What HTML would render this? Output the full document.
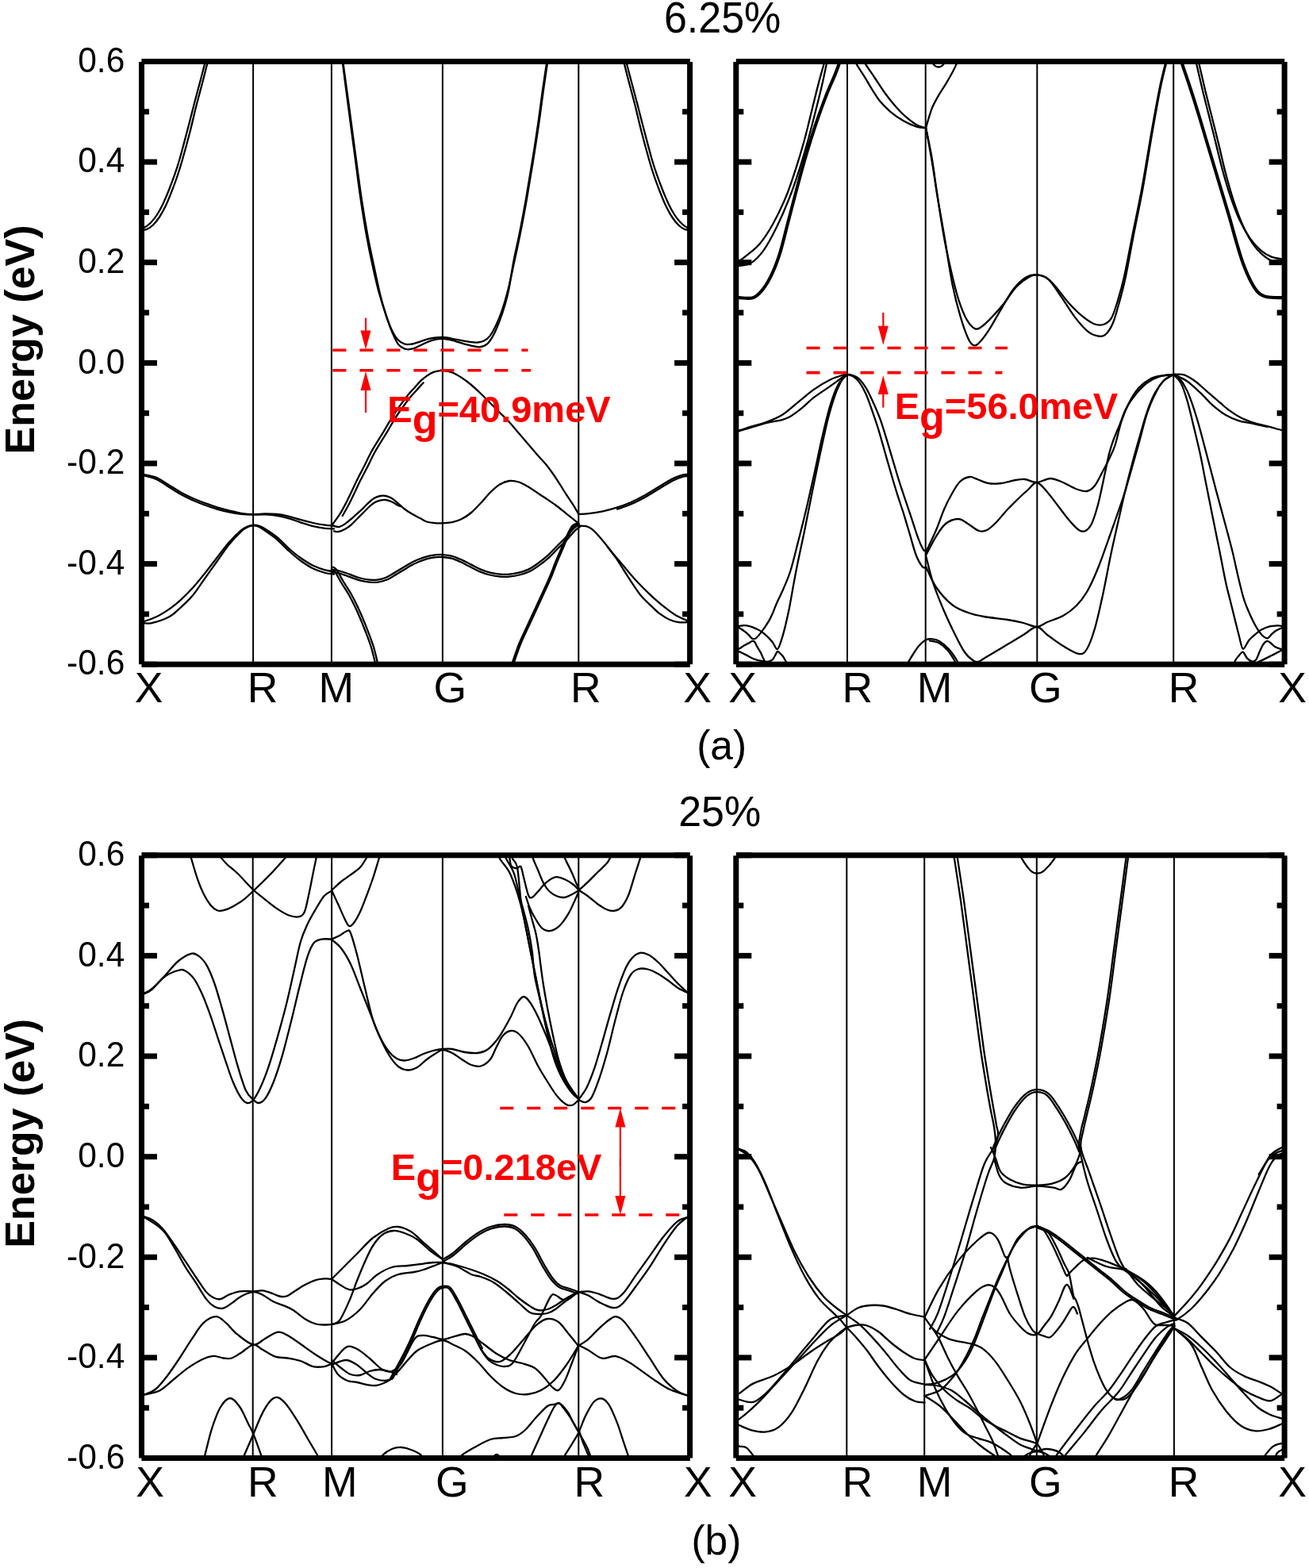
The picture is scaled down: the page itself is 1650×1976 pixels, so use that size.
<!DOCTYPE html><html><head><meta charset="utf-8"><title>Band structures</title><style>html,body{margin:0;padding:0;background:#fff;}svg{display:block;}.t{font-family:"Liberation Sans",Arial,sans-serif;fill:#000;}</style></head><body>
<svg width="1650" height="1976" viewBox="0 0 1650 1976">
<rect width="1650" height="1976" fill="#fff"/>
<clipPath id="cTL"><rect x="178.5" y="77.5" width="691.1" height="759.7"/></clipPath>
<g clip-path="url(#cTL)" fill="none" stroke="#000" stroke-width="2.3" stroke-linejoin="round" stroke-linecap="round">
<line x1="319.1" y1="77.5" x2="319.1" y2="837.2" stroke-width="2"/>
<line x1="417.9" y1="77.5" x2="417.9" y2="837.2" stroke-width="2"/>
<line x1="557.9" y1="77.5" x2="557.9" y2="837.2" stroke-width="2"/>
<line x1="729.3" y1="77.5" x2="729.3" y2="837.2" stroke-width="2"/>
<path d="M176.0,288.2 C177.1,287.9 180.2,287.8 182.5,286.5 C184.8,285.2 187.6,283.1 190.1,280.5 C192.6,277.9 195.2,274.9 197.7,271.0 C200.2,267.1 202.8,262.4 205.3,257.2 C207.8,251.9 210.4,245.8 212.9,239.5 C215.4,233.2 218.2,225.8 220.5,219.2 C222.8,212.6 224.0,209.0 226.6,200.0 C229.2,191.0 232.9,176.7 236.0,165.0 C239.1,153.3 242.2,140.8 245.0,130.0 C247.8,119.2 250.6,109.2 253.0,100.0 C255.4,90.8 258.4,79.2 259.5,75.0"/>
<path d="M176.0,289.8 C177.4,289.7 181.7,290.2 184.5,289.2 C187.3,288.1 190.2,286.1 193.0,283.5 C195.8,280.9 198.3,277.6 201.0,273.5 C203.7,269.4 206.4,264.4 209.0,259.0 C211.6,253.6 214.0,247.4 216.5,241.0 C219.0,234.6 221.8,227.2 224.0,220.5 C226.2,213.8 227.4,210.1 230.0,201.0 C232.6,191.9 236.5,177.7 239.5,166.0 C242.5,154.3 245.2,141.8 248.0,131.0 C250.8,120.2 253.6,110.3 256.0,101.0 C258.4,91.7 261.4,79.3 262.5,75.0"/>
<path d="M788.6,75.0 C789.7,79.2 792.7,90.8 795.1,100.0 C797.5,109.2 800.3,119.2 803.1,130.0 C805.9,140.8 809.0,153.3 812.1,165.0 C815.2,176.7 818.9,191.0 821.5,200.0 C824.1,209.0 825.3,212.6 827.6,219.2 C829.9,225.8 832.7,233.2 835.2,239.5 C837.7,245.8 840.3,251.9 842.8,257.2 C845.3,262.4 847.9,267.1 850.4,271.0 C852.9,274.9 855.5,277.9 858.0,280.5 C860.5,283.1 863.2,285.2 865.6,286.5 C867.9,287.8 871.0,287.9 872.1,288.2"/>
<path d="M785.6,75.0 C786.7,79.3 789.7,91.7 792.1,101.0 C794.5,110.3 797.3,120.2 800.1,131.0 C802.8,141.8 805.6,154.3 808.6,166.0 C811.6,177.7 815.5,191.9 818.1,201.0 C820.7,210.1 821.8,213.8 824.1,220.5 C826.3,227.2 829.1,234.6 831.6,241.0 C834.1,247.4 836.5,253.6 839.1,259.0 C841.7,264.4 844.4,269.4 847.1,273.5 C849.8,277.6 852.3,280.9 855.1,283.5 C857.8,286.1 860.8,288.1 863.6,289.2 C866.4,290.2 870.7,289.7 872.1,289.8"/>
<path d="M176.0,598.0 C177.0,598.0 178.2,597.5 181.8,598.2 C185.4,598.9 192.5,599.8 197.7,602.0 C202.9,604.2 207.8,608.2 212.9,611.3 C218.0,614.4 222.9,617.6 228.0,620.4 C233.1,623.2 238.1,625.7 243.2,628.0 C248.2,630.3 253.2,632.1 258.3,634.0 C263.4,635.9 268.4,637.8 273.5,639.3 C278.6,640.8 283.6,642.0 288.6,643.3 C293.7,644.5 298.8,646.0 303.8,646.8 C308.9,647.6 313.8,648.1 318.9,648.2 C323.9,648.3 329.1,647.4 334.1,647.4 C339.2,647.4 344.1,647.4 349.2,648.0 C354.2,648.6 359.3,649.6 364.4,650.8 C369.4,652.0 374.4,653.8 379.5,655.2 C384.6,656.6 389.6,657.9 394.7,659.0 C399.8,660.1 405.4,661.0 409.8,661.6 C414.2,662.2 419.1,662.4 421.0,662.6"/>
<path d="M176.0,598.8 C177.0,598.9 178.2,598.5 181.8,599.4 C185.4,600.3 192.5,601.9 197.7,604.3 C202.9,606.7 207.8,610.7 212.9,613.8 C218.0,616.9 222.9,620.2 228.0,623.0 C233.1,625.8 238.1,628.2 243.2,630.5 C248.2,632.8 253.2,634.6 258.3,636.5 C263.4,638.4 268.4,640.1 273.5,641.6 C278.6,643.1 283.6,644.3 288.6,645.3 C293.7,646.3 298.8,647.2 303.8,647.8 C308.9,648.3 313.8,648.5 318.9,648.6 C323.9,648.7 329.1,648.2 334.1,648.4 C339.2,648.6 344.1,649.0 349.2,649.8 C354.2,650.6 359.3,651.8 364.4,653.3 C369.4,654.8 374.4,657.0 379.5,658.6 C384.6,660.2 389.6,662.0 394.7,663.2 C399.8,664.4 405.4,665.3 409.8,665.8 C414.2,666.3 419.1,666.3 421.0,666.4"/>
<path d="M176.0,783.0 C177.0,783.0 178.2,784.0 181.8,783.0 C185.4,782.0 192.5,779.5 197.7,777.0 C202.9,774.5 207.8,771.4 212.9,767.9 C218.0,764.4 222.9,760.3 228.0,755.8 C233.1,751.2 238.1,746.2 243.2,740.6 C248.2,735.0 253.2,728.7 258.3,722.4 C263.4,716.1 268.4,709.2 273.5,702.7 C278.6,696.2 283.6,689.2 288.6,683.5 C293.7,677.8 299.9,671.8 303.8,668.5 C307.7,665.2 309.5,664.6 312.0,663.5 C314.5,662.4 316.6,662.0 318.9,661.8 C321.2,661.6 323.5,661.7 326.0,662.5 C328.5,663.3 330.2,664.0 334.1,666.4 C338.0,668.8 344.1,672.8 349.2,677.0 C354.2,681.2 359.3,687.1 364.4,691.5 C369.4,695.9 374.4,700.0 379.5,703.5 C384.6,707.0 389.6,710.3 394.7,712.8 C399.8,715.3 405.4,717.1 409.8,718.3 C414.2,719.5 419.1,719.9 421.0,720.2"/>
<path d="M176.0,784.5 C178.4,784.6 184.0,786.5 190.2,785.3 C196.3,784.1 206.6,780.8 212.9,777.5 C219.2,774.2 222.9,769.9 228.0,765.3 C233.1,760.7 238.1,756.1 243.2,750.0 C248.2,743.9 253.2,735.9 258.3,728.8 C263.4,721.7 268.4,714.6 273.5,707.5 C278.6,700.4 283.6,692.6 288.6,686.3 C293.7,680.0 299.9,673.5 303.8,669.8 C307.7,666.1 309.5,665.5 312.0,664.3 C314.5,663.0 316.6,662.4 318.9,662.3 C321.2,662.2 323.5,662.7 326.0,663.8 C328.5,664.9 330.2,666.1 334.1,668.8 C338.0,671.5 344.1,675.5 349.2,679.8 C354.2,684.1 359.3,690.0 364.4,694.5 C369.4,699.0 374.4,703.3 379.5,707.0 C384.6,710.7 389.6,714.0 394.7,716.5 C399.8,719.0 405.4,720.8 409.8,722.0 C414.2,723.2 419.1,723.2 421.0,723.5"/>
<path d="M431.7,75.0 C431.8,76.0 430.9,71.2 432.1,80.8 C433.3,90.4 436.4,114.4 438.8,132.7 C441.2,151.0 443.9,171.2 446.5,190.4 C449.1,209.6 451.6,230.5 454.2,248.1 C456.8,265.7 459.3,281.8 461.9,296.2 C464.5,310.6 467.0,322.8 469.6,334.6 C472.2,346.5 474.7,357.7 477.3,367.3 C479.9,376.9 482.4,384.6 485.0,392.3 C487.6,400.0 490.1,407.7 492.7,413.5 C495.3,419.3 497.5,423.6 500.4,426.9 C503.3,430.2 506.8,432.4 510.0,433.5 C513.2,434.6 516.4,434.0 519.6,433.5 C522.8,433.0 525.7,431.7 529.2,430.6 C532.7,429.5 536.0,427.8 540.8,426.9 C545.6,426.0 552.3,424.8 558.1,425.0 C563.9,425.2 570.0,427.0 575.4,427.9 C580.8,428.8 586.3,430.0 590.8,430.6 C595.3,431.2 599.1,431.7 602.3,431.5 C605.5,431.3 607.4,431.0 610.0,429.6 C612.6,428.2 615.1,426.4 617.7,423.1 C620.3,419.8 622.8,415.1 625.4,409.6 C628.0,404.2 630.5,398.1 633.1,390.4 C635.7,382.7 638.2,373.8 640.8,363.5 C643.4,353.2 645.9,340.7 648.5,328.8 C651.1,316.9 653.7,305.1 656.2,292.3 C658.8,279.5 661.2,266.3 663.8,251.9 C666.3,237.5 668.9,221.8 671.5,205.8 C674.1,189.8 677.0,171.2 679.2,155.8 C681.5,140.4 683.2,126.0 685.0,113.5 C686.8,101.0 688.9,87.2 689.8,80.8 C690.7,74.4 690.4,76.0 690.5,75.0"/>
<path d="M432.3,75.0 C432.4,76.0 431.4,71.2 432.7,80.8 C433.9,90.4 437.3,114.4 439.8,132.7 C442.3,151.0 444.9,171.2 447.5,190.4 C450.1,209.6 452.8,230.5 455.4,248.1 C458.0,265.7 460.7,281.8 463.3,296.2 C465.9,310.6 468.6,322.1 471.2,334.6 C473.8,347.1 476.6,360.6 479.2,371.2 C481.8,381.8 484.3,390.1 486.9,398.1 C489.5,406.1 492.0,413.2 494.6,419.2 C497.2,425.2 499.4,430.7 502.3,434.2 C505.2,437.7 508.7,439.2 511.9,440.0 C515.1,440.8 518.0,440.2 521.5,439.2 C525.0,438.1 529.2,435.4 533.1,433.7 C537.0,432.0 540.4,429.9 544.6,428.8 C548.8,427.7 553.3,426.7 558.1,426.9 C562.9,427.1 568.4,428.6 573.5,429.8 C578.6,431.1 583.7,433.1 588.8,434.4 C593.9,435.6 600.0,437.4 604.2,437.3 C608.4,437.2 610.9,436.1 613.8,433.7 C616.7,431.3 618.9,427.8 621.5,423.1 C624.1,418.5 626.6,412.5 629.2,405.8 C631.8,399.1 634.9,389.7 636.9,382.7 C638.9,375.7 639.7,373.0 641.5,364.0 C643.3,355.0 645.2,340.8 647.5,328.8 C649.8,316.9 652.7,305.1 655.2,292.3 C657.8,279.5 660.2,266.3 662.8,251.9 C665.3,237.5 667.9,221.8 670.5,205.8 C673.1,189.8 676.0,171.2 678.2,155.8 C680.5,140.4 682.2,126.0 684.0,113.5 C685.8,101.0 687.9,87.2 688.8,80.8 C689.7,74.4 689.4,76.0 689.5,75.0"/>
<path d="M418.0,663.0 C418.2,662.6 417.8,663.0 419.5,660.5 C421.2,658.0 425.5,652.4 428.2,648.2 C430.9,644.0 433.1,639.7 435.5,635.1 C437.9,630.5 440.3,625.5 442.7,620.5 C445.1,615.5 447.2,610.7 450.0,605.0 C452.8,599.3 456.8,592.1 459.7,586.3 C462.6,580.5 465.0,575.2 467.6,570.3 C470.2,565.4 472.9,561.2 475.5,556.9 C478.1,552.6 480.7,548.6 483.3,544.3 C485.9,540.0 488.6,535.2 491.2,530.9 C493.8,526.6 496.5,522.2 499.1,518.3 C501.7,514.4 504.4,510.9 507.0,507.3 C509.6,503.8 512.3,500.1 514.9,497.0 C517.5,493.9 520.1,491.3 522.7,488.4 C525.3,485.5 528.0,482.2 530.6,479.7 C533.2,477.2 535.9,475.2 538.5,473.4 C541.1,471.6 543.8,469.9 546.4,468.9 C549.0,467.9 552.4,467.5 554.3,467.2 C556.2,466.9 555.3,466.6 557.9,467.0 C560.5,467.4 566.0,468.0 570.0,469.5 C574.0,471.0 578.0,473.4 582.0,476.0 C586.0,478.6 590.0,481.7 594.0,485.0 C598.0,488.3 602.0,492.2 606.0,496.0 C610.0,499.8 614.0,504.0 618.0,508.0 C622.0,512.0 626.0,516.0 630.0,520.0 C634.0,524.0 638.0,527.7 642.0,532.0 C646.0,536.3 650.0,541.3 654.0,546.0 C658.0,550.7 662.0,555.3 666.0,560.0 C670.0,564.7 674.0,569.4 678.0,574.0 C682.0,578.6 686.1,582.5 690.0,587.5 C693.9,592.5 697.7,598.0 701.6,603.8 C705.5,609.6 709.8,617.0 713.3,622.4 C716.8,627.8 719.9,632.1 722.6,636.4 C725.3,640.7 728.2,646.1 729.3,648.0"/>
<path d="M431.7,650.1 C432.9,647.9 436.6,641.6 439.0,637.0 C441.5,632.3 443.9,627.3 446.3,622.2 C448.7,617.2 450.8,612.5 453.6,606.8 C456.4,601.1 460.3,593.9 463.3,588.1 C466.2,582.3 468.5,577.1 471.1,572.2 C473.7,567.3 476.3,563.3 478.9,559.0 C481.5,554.7 484.1,550.7 486.7,546.4 C489.3,542.0 492.0,537.3 494.6,533.0 C497.2,528.7 499.8,524.4 502.4,520.5 C505.0,516.6 507.6,513.2 510.2,509.7 C512.8,506.2 515.4,502.7 518.0,499.6 C520.6,496.5 523.1,493.9 525.7,491.1 C528.3,488.2 532.2,483.8 533.6,482.4"/>
<path d="M418.0,663.5 C418.2,663.4 417.9,662.6 419.5,662.7 C421.1,662.8 424.8,664.5 427.5,664.0 C430.2,663.5 433.0,661.5 435.5,659.8 C438.0,658.1 440.3,656.0 442.7,654.0 C445.1,652.0 447.6,649.7 450.0,647.5 C452.4,645.3 454.9,643.2 457.3,640.9 C459.7,638.6 462.1,635.8 464.5,633.6 C466.9,631.4 469.4,629.2 471.8,627.8 C474.2,626.4 476.7,625.5 479.1,625.0 C481.5,624.5 484.0,624.5 486.4,625.0 C488.8,625.5 491.2,626.4 493.6,627.8 C496.0,629.2 498.5,631.5 500.9,633.6 C503.3,635.7 505.8,638.2 508.2,640.2 C510.6,642.2 513.1,643.7 515.5,645.3 C517.9,646.9 520.3,648.3 522.7,649.6 C525.1,650.9 527.5,652.0 530.0,653.3 C532.5,654.6 534.7,656.5 538.0,657.5 C541.3,658.5 546.7,659.0 550.0,659.3 C553.3,659.6 554.7,659.5 558.0,659.3 C561.3,659.1 566.0,659.1 570.0,658.2 C574.0,657.3 578.0,656.0 582.0,654.0 C586.0,652.0 590.0,649.3 594.0,646.0 C598.0,642.7 602.0,638.2 606.0,634.0 C610.0,629.8 614.0,624.4 618.0,620.5 C622.0,616.6 626.0,612.9 630.0,610.5 C634.0,608.1 638.0,606.5 642.0,606.0 C646.0,605.5 650.0,606.2 654.0,607.5 C658.0,608.8 662.0,611.2 666.0,613.5 C670.0,615.8 674.0,618.9 678.0,621.5 C682.0,624.1 686.1,626.7 690.0,629.4 C693.9,632.1 697.7,634.6 701.6,637.5 C705.5,640.4 709.4,643.7 713.3,646.8 C717.2,649.9 722.2,654.0 724.9,656.1 C727.6,658.2 728.6,658.9 729.3,659.5"/>
<path d="M420.9,669.3 C421.9,669.4 424.3,670.5 426.7,670.0 C429.1,669.5 432.8,667.9 435.5,666.4 C438.2,664.9 440.3,663.4 442.7,661.3 C445.1,659.2 447.6,656.4 450.0,654.0 C452.4,651.6 454.9,649.1 457.3,646.7 C459.7,644.3 462.1,641.7 464.5,639.5 C466.9,637.3 469.4,635.1 471.8,633.6 C474.2,632.1 476.7,631.3 479.1,630.7 C481.5,630.1 484.0,629.8 486.4,630.0 C488.8,630.2 491.2,631.1 493.6,632.2 C496.0,633.3 499.1,635.5 500.9,636.5 C502.7,637.5 503.9,637.8 504.5,638.0"/>
<path d="M418.0,718.0 C419.3,718.2 423.0,718.3 426.0,719.0 C429.0,719.7 432.7,720.9 436.0,722.0 C439.3,723.1 442.7,724.6 446.0,725.8 C449.3,727.0 452.7,728.2 456.0,729.0 C459.3,729.8 462.7,730.3 466.0,730.6 C469.3,730.9 472.7,731.0 476.0,730.6 C479.3,730.2 482.7,729.4 486.0,728.0 C489.3,726.6 492.7,724.4 496.0,722.5 C499.3,720.6 502.7,718.5 506.0,716.5 C509.3,714.5 512.7,712.3 516.0,710.5 C519.3,708.7 522.3,707.0 526.0,705.5 C529.7,704.0 534.0,702.3 538.0,701.3 C542.0,700.2 546.7,699.6 550.0,699.2 C553.3,698.8 554.7,698.7 558.0,699.0 C561.3,699.3 566.0,699.7 570.0,700.8 C574.0,701.9 578.0,703.8 582.0,705.6 C586.0,707.4 590.0,709.6 594.0,711.6 C598.0,713.6 602.0,715.9 606.0,717.6 C610.0,719.3 614.0,720.6 618.0,721.6 C622.0,722.6 626.0,723.3 630.0,723.6 C634.0,723.9 638.0,723.9 642.0,723.6 C646.0,723.3 650.0,722.6 654.0,721.6 C658.0,720.6 662.0,719.5 666.0,717.6 C670.0,715.7 674.0,712.9 678.0,710.0 C682.0,707.1 686.1,703.9 690.0,700.4 C693.9,696.9 697.7,692.6 701.6,688.7 C705.5,684.8 709.8,680.8 713.3,677.1 C716.8,673.4 719.9,669.2 722.6,666.5 C725.3,663.8 728.4,661.9 729.6,661.0"/>
<path d="M417.6,721.0 C418.9,721.1 422.4,721.3 425.3,721.9 C428.3,722.6 431.8,723.7 435.0,724.8 C438.3,726.0 441.6,727.5 445.0,728.6 C448.4,729.8 451.8,731.1 455.3,731.9 C458.8,732.7 462.2,733.3 465.8,733.6 C469.3,733.9 472.8,734.0 476.4,733.6 C479.9,733.1 483.6,732.2 487.1,730.8 C490.6,729.4 494.1,727.1 497.5,725.1 C500.9,723.1 504.2,721.1 507.5,719.1 C510.9,717.1 514.2,714.9 517.4,713.1 C520.7,711.3 523.6,709.8 527.2,708.3 C530.7,706.8 534.9,705.2 538.8,704.2 C542.6,703.2 547.2,702.5 550.3,702.2 C553.5,701.8 554.6,701.7 557.8,702.0 C560.9,702.2 565.4,702.6 569.2,703.7 C573.0,704.8 576.9,706.6 580.8,708.3 C584.7,710.1 588.6,712.3 592.7,714.3 C596.7,716.3 600.7,718.7 604.8,720.4 C608.9,722.1 613.1,723.5 617.3,724.5 C621.4,725.5 625.6,726.2 629.8,726.6 C633.9,726.9 638.1,726.9 642.2,726.6 C646.4,726.2 650.6,725.6 654.7,724.5 C658.9,723.5 663.1,722.3 667.3,720.3 C671.5,718.3 675.6,715.4 679.7,712.4 C683.9,709.5 688.0,706.2 692.0,702.6 C696.0,699.0 699.8,694.7 703.7,690.8 C707.6,686.9 712.0,682.9 715.5,679.2 C719.0,675.5 722.0,671.3 724.7,668.6 C727.4,666.0 730.3,664.2 731.5,663.4"/>
<path d="M418.0,717.0 C418.7,717.5 420.0,717.2 422.0,720.0 C424.0,722.8 427.0,729.0 430.0,734.0 C433.0,739.0 436.7,744.0 440.0,750.0 C443.3,756.0 446.7,762.7 450.0,770.0 C453.3,777.3 457.0,786.3 460.0,794.0 C463.0,801.7 465.7,808.3 468.0,816.0 C470.3,823.7 473.0,836.0 474.0,840.0"/>
<path d="M419.8,714.6 C420.6,715.2 422.3,715.3 424.5,718.3 C426.6,721.2 429.5,727.4 432.6,732.5 C435.6,737.5 439.3,742.5 442.6,748.5 C446.0,754.6 449.4,761.4 452.7,768.8 C456.1,776.2 459.8,785.2 462.8,792.9 C465.8,800.6 468.5,807.4 470.9,815.1 C473.2,822.9 475.9,835.2 476.9,839.3"/>
<path d="M729.6,660.5 C728.4,661.1 724.9,661.2 722.6,664.0 C720.3,666.8 717.9,672.2 715.6,677.1 C713.3,682.0 710.9,688.0 708.6,693.4 C706.3,698.8 703.7,704.5 701.6,709.7 C699.5,714.9 697.7,720.1 695.8,724.8 C693.9,729.5 693.0,731.5 690.0,738.0 C687.0,744.5 682.0,755.3 678.0,764.0 C674.0,772.7 669.7,782.0 666.0,790.0 C662.3,798.0 659.3,803.7 656.0,812.0 C652.7,820.3 647.7,835.3 646.0,840.0"/>
<path d="M728.8,658.9 C727.5,659.5 723.7,659.9 721.2,662.8 C718.8,665.7 716.4,671.4 714.0,676.3 C711.6,681.3 709.3,687.2 706.9,692.7 C704.6,698.1 702.1,703.8 699.9,709.0 C697.8,714.3 696.1,719.4 694.1,724.1 C692.2,728.8 691.3,730.7 688.4,737.3 C685.4,743.8 680.4,754.6 676.4,763.2 C672.4,771.9 668.0,781.2 664.4,789.3 C660.7,797.3 657.7,803.0 654.3,811.3 C651.0,819.7 646.0,834.7 644.3,839.4"/>
<path d="M729.6,648.0 C731.7,647.9 737.4,647.8 742.4,647.2 C747.4,646.6 754.0,645.6 759.8,644.3 C765.6,643.0 771.5,641.5 777.3,639.6 C783.1,637.8 789.0,635.7 794.8,633.2 C800.6,630.7 806.4,627.7 812.2,624.5 C818.0,621.3 823.9,617.5 829.7,614.0 C835.5,610.5 842.4,606.1 847.2,603.6 C852.1,601.1 855.7,600.0 858.8,599.0 C861.9,598.0 863.6,598.1 865.8,597.9 C868.0,597.7 871.0,597.6 872.0,597.6"/>
<path d="M778.1,641.7 C781.0,640.6 789.8,637.8 795.7,635.2 C801.5,632.7 807.4,629.6 813.3,626.4 C819.1,623.2 825.0,619.4 830.8,615.9 C836.7,612.4 843.4,608.0 848.2,605.6 C853.0,603.1 856.5,602.0 859.4,601.1 C862.4,600.2 863.9,600.3 866.0,600.1 C868.1,599.9 871.1,599.8 872.1,599.8"/>
<path d="M729.6,662.5 C731.1,662.6 736.2,662.4 738.9,663.1 C741.6,663.8 743.2,664.5 745.9,666.6 C748.6,668.7 751.9,672.2 755.2,675.9 C758.5,679.6 762.2,684.2 765.7,688.7 C769.2,693.2 772.6,697.7 776.1,702.7 C779.6,707.8 783.1,713.6 786.6,719.0 C790.1,724.4 793.4,729.9 797.1,735.3 C800.8,740.7 804.8,747.0 808.7,751.6 C812.6,756.2 816.5,759.5 820.4,763.2 C824.3,766.9 828.1,770.8 832.0,773.7 C835.9,776.6 839.8,779.0 843.7,780.7 C847.6,782.5 851.6,783.6 855.3,784.2 C859.0,784.8 863.0,784.3 865.8,784.2 C868.6,784.1 871.0,783.6 872.0,783.5"/>
<path d="M765.7,688.7 C766.3,689.5 766.3,689.9 769.2,693.4 C772.1,696.9 778.8,704.7 783.1,709.7 C787.4,714.8 790.9,719.2 794.8,723.7 C798.7,728.2 802.5,732.4 806.4,736.5 C810.3,740.6 814.2,744.4 818.1,748.1 C822.0,751.8 825.8,755.3 829.7,758.6 C833.6,761.9 837.4,765.0 841.3,767.9 C845.2,770.8 848.9,773.8 853.0,776.1 C857.1,778.4 862.6,780.7 865.8,781.9 C869.0,783.1 871.0,783.2 872.0,783.5"/>
</g>
<clipPath id="cTR"><rect x="927.8" y="77.5" width="691.3" height="759.7"/></clipPath>
<g clip-path="url(#cTR)" fill="none" stroke="#000" stroke-width="2.3" stroke-linejoin="round" stroke-linecap="round">
<line x1="1068.0" y1="77.5" x2="1068.0" y2="837.2" stroke-width="2"/>
<line x1="1166.7" y1="77.5" x2="1166.7" y2="837.2" stroke-width="2"/>
<line x1="1307.3" y1="77.5" x2="1307.3" y2="837.2" stroke-width="2"/>
<line x1="1479.2" y1="77.5" x2="1479.2" y2="837.2" stroke-width="2"/>
<path d="M926.0,328.5 C926.9,328.6 929.0,329.9 931.6,328.8 C934.2,327.7 937.0,325.4 941.4,321.7 C945.8,318.0 952.4,313.5 957.9,306.9 C963.4,300.3 968.8,292.1 974.3,282.2 C979.8,272.3 985.8,259.8 990.8,247.7 C995.8,235.6 1000.2,221.7 1004.0,209.9 C1007.8,198.1 1010.5,189.1 1013.8,177.0 C1017.1,164.9 1020.7,149.6 1023.7,137.5 C1026.7,125.4 1029.4,114.0 1031.9,104.6 C1034.4,95.1 1037.2,85.7 1038.5,80.8 C1039.8,75.9 1039.3,76.0 1039.5,75.0"/>
<path d="M926.0,334.9 C926.9,334.9 928.2,335.4 931.6,334.9 C935.0,334.3 941.2,334.9 946.4,331.6 C951.6,328.3 957.3,322.8 962.8,315.1 C968.3,307.4 973.8,296.7 979.3,285.5 C984.8,274.3 991.1,259.5 995.7,247.7 C1000.4,235.9 1003.6,225.8 1007.2,214.8 C1010.8,203.8 1013.8,193.7 1017.1,181.9 C1020.4,170.1 1024.0,155.9 1027.0,144.1 C1030.0,132.3 1032.7,121.8 1035.2,111.2 C1037.7,100.7 1040.6,86.8 1041.8,80.8 C1043.0,74.8 1042.5,76.0 1042.6,75.0"/>
<path d="M926.0,376.0 C926.9,376.0 927.6,376.0 931.6,376.0 C935.6,376.0 944.5,377.9 949.7,376.0 C954.9,374.1 958.7,369.7 962.8,364.5 C966.9,359.3 970.7,352.4 974.3,344.7 C977.9,337.0 980.9,329.1 984.2,318.4 C987.5,307.7 990.8,293.2 994.1,280.6 C997.4,268.0 1000.7,255.1 1004.0,242.8 C1007.3,230.5 1010.5,218.1 1013.8,206.6 C1017.1,195.1 1020.4,184.1 1023.7,173.7 C1027.0,163.3 1030.3,153.4 1033.6,144.1 C1036.9,134.8 1040.1,126.0 1043.4,117.8 C1046.7,109.6 1050.8,100.9 1053.3,94.7 C1055.8,88.5 1057.3,84.1 1058.5,80.8 C1059.7,77.5 1060.2,76.0 1060.5,75.0"/>
<path d="M926.0,374.2 C926.9,374.2 927.8,374.2 931.6,374.2 C935.4,374.2 944.1,376.1 949.1,374.3 C954.0,372.5 957.5,368.4 961.4,363.4 C965.3,358.3 969.2,351.5 972.7,343.9 C976.2,336.4 979.2,328.5 982.5,317.9 C985.8,307.2 989.1,292.7 992.4,280.1 C995.7,267.6 999.0,254.7 1002.3,242.3 C1005.5,230.0 1008.8,217.6 1012.1,206.1 C1015.4,194.6 1018.7,183.6 1022.0,173.2 C1025.3,162.7 1028.6,152.8 1031.9,143.5 C1035.2,134.2 1038.4,125.4 1041.7,117.1 C1045.0,108.9 1049.1,100.2 1051.6,94.0 C1054.1,87.9 1055.6,83.4 1056.8,80.2 C1058.0,76.9 1058.5,75.4 1058.8,74.4"/>
<path d="M1078.0,75.0 C1078.3,76.0 1077.7,77.2 1079.6,80.8 C1081.5,84.4 1086.2,91.1 1089.5,96.4 C1092.8,101.7 1096.0,107.6 1099.3,112.8 C1102.6,118.0 1105.3,122.9 1109.2,127.6 C1113.1,132.3 1117.5,136.7 1122.4,140.8 C1127.3,144.9 1133.3,149.2 1138.8,152.3 C1144.3,155.5 1150.6,158.2 1155.3,159.7 C1160.0,161.2 1164.9,161.0 1166.8,161.3"/>
<path d="M1089.5,75.0 C1089.8,76.0 1088.9,77.0 1091.1,80.8 C1093.3,84.6 1098.5,91.8 1102.6,98.0 C1106.7,104.2 1111.4,111.8 1115.8,117.8 C1120.2,123.8 1124.6,129.3 1129.0,134.2 C1133.4,139.1 1137.7,143.6 1142.1,147.4 C1146.5,151.2 1151.2,154.9 1155.3,157.2 C1159.4,159.5 1164.9,160.6 1166.8,161.3"/>
<path d="M1167.1,161.0 C1168.3,166.9 1172.0,183.8 1174.2,196.5 C1176.4,209.2 1178.2,223.5 1180.2,237.0 C1182.2,250.5 1184.3,264.9 1186.3,277.4 C1188.3,289.9 1190.0,300.0 1192.4,311.8 C1194.8,323.6 1197.8,337.2 1200.5,348.3 C1203.2,359.4 1205.6,369.5 1208.6,378.6 C1211.6,387.7 1215.3,397.1 1218.7,403.0 C1222.1,408.9 1225.8,412.6 1228.8,414.1 C1231.8,415.6 1233.5,414.2 1236.9,412.0 C1240.3,409.8 1244.4,405.8 1249.1,400.9 C1253.8,396.0 1259.9,389.3 1265.3,382.7 C1270.7,376.1 1276.1,366.6 1281.5,361.0 C1286.9,355.4 1293.4,351.2 1297.7,348.8 C1302.0,346.4 1304.0,346.2 1307.4,346.3 C1310.8,346.4 1314.1,347.0 1317.9,349.3 C1321.7,351.6 1325.3,355.2 1330.0,360.4 C1334.7,365.6 1340.8,374.6 1346.2,380.7 C1351.6,386.8 1357.0,392.3 1362.4,396.9 C1367.8,401.4 1373.9,406.0 1378.6,408.0 C1383.3,410.0 1387.1,410.2 1390.8,409.0 C1394.5,407.8 1397.9,406.0 1400.9,400.9 C1403.9,395.8 1406.3,387.4 1409.0,378.6 C1411.7,369.8 1414.1,361.8 1417.1,348.3 C1420.1,334.8 1423.5,316.2 1427.2,297.7 C1430.9,279.1 1435.4,258.9 1439.4,237.0 C1443.5,215.1 1447.8,187.0 1451.5,166.1 C1455.2,145.2 1458.7,125.6 1461.6,111.4 C1464.5,97.2 1467.3,87.2 1468.7,81.1 C1470.1,75.0 1469.8,76.0 1470.0,75.0"/>
<path d="M1167.1,161.0 C1168.4,168.3 1172.5,190.2 1175.0,205.0 C1177.5,219.8 1179.4,234.6 1182.0,250.0 C1184.6,265.4 1187.3,279.6 1190.4,297.7 C1193.5,315.8 1197.1,341.5 1200.5,358.4 C1203.9,375.3 1207.2,387.4 1210.6,398.9 C1214.0,410.4 1217.8,421.1 1220.7,427.2 C1223.6,433.3 1225.4,434.6 1227.8,435.3 C1230.2,436.0 1231.7,434.7 1234.9,431.3 C1238.1,427.9 1242.6,421.9 1247.0,415.1 C1251.4,408.4 1256.1,399.2 1261.2,390.8 C1266.3,382.4 1272.0,371.4 1277.4,364.5 C1282.8,357.6 1288.6,352.3 1293.6,349.3 C1298.6,346.3 1302.7,345.8 1307.4,346.3 C1312.1,346.8 1316.8,347.6 1321.9,352.3 C1327.0,357.0 1332.7,366.8 1338.1,374.6 C1343.5,382.4 1348.9,391.8 1354.3,398.9 C1359.7,406.0 1365.8,413.1 1370.5,417.1 C1375.2,421.2 1379.0,422.4 1382.7,423.2 C1386.4,424.0 1389.4,424.9 1392.8,422.2 C1396.2,419.5 1399.8,414.3 1402.9,407.0 C1406.0,399.7 1408.8,388.4 1411.5,378.6 C1414.2,368.8 1416.2,361.8 1419.0,348.3 C1421.8,334.8 1425.0,316.2 1428.6,297.7 C1432.2,279.1 1436.6,258.9 1440.6,237.0 C1444.6,215.1 1448.9,187.0 1452.6,166.1 C1456.3,145.2 1459.8,125.6 1462.6,111.4 C1465.4,97.2 1468.3,87.2 1469.7,81.1 C1471.1,75.0 1470.8,76.0 1471.0,75.0"/>
<path d="M1167.1,161.0 C1168.3,157.1 1171.7,144.4 1174.2,137.8 C1176.7,131.2 1179.3,127.0 1182.3,121.6 C1185.3,116.2 1189.4,110.5 1192.4,105.4 C1195.4,100.3 1198.3,95.2 1200.5,91.2 C1202.7,87.2 1204.2,83.8 1205.5,81.1 C1206.8,78.4 1207.6,76.0 1208.0,75.0"/>
<path d="M1174.0,77.0 C1174.7,77.9 1176.5,81.2 1178.0,82.5 C1179.5,83.8 1181.3,84.5 1183.0,84.5 C1184.7,84.5 1186.5,83.8 1188.0,82.5 C1189.5,81.2 1191.3,77.9 1192.0,77.0"/>
<path d="M926.0,542.2 C927.0,542.2 928.9,542.9 932.1,542.2 C935.3,541.5 939.6,539.9 945.2,538.2 C950.8,536.5 958.8,534.6 965.5,532.1 C972.2,529.6 979.0,527.2 985.7,523.0 C992.5,518.8 999.2,512.2 1006.0,506.8 C1012.8,501.4 1019.5,495.3 1026.2,490.6 C1033.0,485.9 1040.4,481.5 1046.5,478.5 C1052.6,475.5 1059.1,473.7 1062.7,472.6 C1066.3,471.5 1067.4,472.1 1068.3,472.0"/>
<path d="M926.0,543.2 C927.0,543.2 925.5,544.9 932.1,543.2 C938.7,541.5 956.6,535.5 965.5,533.1 C974.4,530.8 980.6,530.5 985.7,529.1 C990.8,527.8 991.9,527.4 995.9,525.0 C999.9,522.6 1005.0,518.9 1010.0,514.9 C1015.0,510.8 1020.1,505.4 1026.2,500.7 C1032.3,496.0 1040.4,490.9 1046.5,486.6 C1052.6,482.3 1059.1,477.4 1062.7,475.0 C1066.3,472.6 1067.4,472.5 1068.3,472.0"/>
<path d="M1068.3,472.0 C1066.3,474.1 1060.2,478.0 1056.6,484.5 C1053.0,491.0 1049.9,499.8 1046.5,510.9 C1043.1,522.0 1039.7,536.8 1036.3,551.3 C1032.9,565.8 1029.6,582.7 1026.2,597.9 C1022.8,613.1 1019.5,628.2 1016.1,642.4 C1012.7,656.6 1009.3,670.1 1006.0,682.9 C1002.7,695.7 999.6,709.1 996.5,719.0 C993.4,728.9 990.4,735.2 987.5,742.0 C984.6,748.8 981.3,755.1 979.1,760.0 C976.9,764.9 976.2,767.6 974.5,771.5 C972.8,775.4 971.2,779.1 968.8,783.2 C966.4,787.3 962.7,792.6 960.0,796.1 C957.3,799.6 954.8,802.8 952.8,804.3 C950.8,805.8 949.4,805.1 948.2,804.8 C947.0,804.4 946.9,803.5 945.6,802.2 C944.3,800.9 942.9,799.0 940.5,797.1 C938.1,795.2 933.6,792.1 931.2,790.9 C928.8,789.7 926.9,790.1 926.0,790.0"/>
<path d="M1068.3,472.0 C1067.7,472.2 1067.0,470.0 1064.7,473.4 C1062.4,476.8 1058.0,484.0 1054.6,492.6 C1051.2,501.2 1047.8,512.2 1044.4,525.0 C1041.0,537.8 1037.7,554.1 1034.3,569.6 C1030.9,585.1 1027.6,601.6 1024.2,618.1 C1020.8,634.6 1017.5,652.2 1014.1,668.7 C1010.7,685.2 1006.9,702.1 1003.9,717.3 C1000.9,732.5 997.8,750.7 996.1,760.0 C994.4,769.3 994.6,767.8 993.5,772.9 C992.4,778.0 990.9,784.9 989.4,790.9 C987.9,796.9 985.8,804.3 984.2,808.9 C982.6,813.5 981.3,818.1 979.6,818.2 C977.9,818.3 976.1,812.3 973.9,809.5 C971.7,806.7 968.5,803.4 966.2,801.2 C963.9,799.0 962.1,797.6 960.0,796.1 C957.9,794.6 955.7,793.6 953.3,792.5 C950.9,791.4 948.2,790.1 945.6,789.4 C943.0,788.7 940.3,788.1 937.9,788.1 C935.5,788.1 933.2,788.9 931.2,789.1 C929.2,789.3 926.9,789.4 926.0,789.5"/>
<path d="M1068.3,472.0 C1069.5,472.4 1073.2,472.8 1075.8,474.5 C1078.4,476.2 1081.1,478.7 1083.7,482.4 C1086.3,486.1 1089.0,490.9 1091.6,496.8 C1094.2,502.7 1096.9,510.4 1099.5,517.9 C1102.1,525.4 1104.8,533.0 1107.4,541.6 C1110.0,550.2 1112.7,560.0 1115.3,569.2 C1117.9,578.4 1120.6,587.8 1123.2,596.8 C1125.8,605.8 1128.5,614.9 1131.1,623.2 C1133.7,631.5 1136.3,638.5 1138.9,646.8 C1141.5,655.1 1144.2,664.4 1146.8,673.2 C1149.4,682.0 1152.1,692.7 1154.7,699.5 C1157.3,706.3 1160.5,711.4 1162.6,714.0 C1164.7,716.6 1166.4,715.1 1167.2,715.3"/>
<path d="M1068.3,472.0 C1069.1,472.1 1070.8,471.6 1073.2,472.5 C1075.6,473.4 1079.3,474.4 1082.4,477.1 C1085.5,479.8 1088.5,483.8 1091.6,488.9 C1094.7,493.9 1097.7,500.6 1100.8,507.4 C1103.9,514.2 1107.2,521.8 1110.0,529.7 C1112.8,537.6 1115.3,546.1 1117.9,554.7 C1120.5,563.3 1123.2,572.3 1125.8,581.1 C1128.4,589.9 1131.1,599.1 1133.7,607.4 C1136.3,615.7 1139.0,623.2 1141.6,631.1 C1144.2,639.0 1146.9,646.8 1149.5,654.7 C1152.1,662.6 1155.0,672.0 1157.4,678.4 C1159.8,684.8 1162.4,690.3 1164.0,692.9 C1165.6,695.5 1166.7,694.0 1167.2,694.2"/>
<path d="M926.0,818.5 C926.9,818.4 929.2,818.5 931.2,817.7 C933.2,816.9 935.7,814.9 937.9,813.6 C940.1,812.3 942.9,811.0 944.6,810.0 C946.3,809.0 947.1,808.1 948.2,807.9 C949.3,807.7 950.3,807.9 951.3,808.9 C952.2,809.9 952.7,812.0 953.9,814.1 C955.1,816.2 957.1,819.2 958.5,821.8 C959.9,824.4 961.2,827.7 962.1,829.6 C963.0,831.5 963.0,831.5 963.6,833.2 C964.2,834.9 965.6,838.9 966.0,840.0"/>
<path d="M926.0,820.5 C926.9,820.5 928.8,820.0 931.2,820.8 C933.6,821.6 937.2,823.8 940.5,825.4 C943.8,827.0 947.4,829.3 950.8,830.6 C954.2,831.9 958.1,832.7 961.1,833.2 C964.1,833.7 966.7,834.1 968.8,833.7 C970.9,833.4 972.6,832.2 973.9,831.1 C975.2,830.0 975.5,828.6 976.5,827.0 C977.5,825.4 978.7,822.2 979.6,821.3 C980.5,820.4 980.5,820.8 981.7,821.8 C982.9,822.8 985.3,825.1 986.8,827.0 C988.2,828.9 989.2,831.0 990.4,833.2 C991.6,835.4 993.4,838.9 994.0,840.0"/>
<path d="M1142.0,840.0 C1142.3,839.5 1142.3,839.1 1143.6,836.8 C1144.9,834.5 1147.6,829.7 1150.0,826.0 C1152.4,822.3 1155.0,817.8 1157.8,814.5 C1160.6,811.2 1164.0,807.9 1166.9,806.4 C1169.8,804.9 1172.2,805.1 1175.0,805.4 C1177.8,805.7 1180.5,805.9 1184.0,808.0 C1187.5,810.1 1192.3,814.0 1196.0,818.0 C1199.7,822.0 1203.8,828.3 1206.0,832.0 C1208.2,835.7 1208.5,838.7 1209.0,840.0"/>
<path d="M1172.0,807.5 C1174.0,808.0 1180.2,808.4 1184.0,810.5 C1187.8,812.6 1191.7,816.1 1195.0,820.0 C1198.3,823.9 1202.2,830.7 1204.0,834.0 C1205.8,837.3 1205.7,839.0 1206.0,840.0"/>
<path d="M1167.0,696.0 C1169.2,691.3 1176.2,677.0 1180.0,668.0 C1183.8,659.0 1186.7,649.7 1190.0,642.0 C1193.3,634.3 1196.7,627.8 1200.0,622.0 C1203.3,616.2 1206.3,610.5 1210.0,607.0 C1213.7,603.5 1218.3,601.5 1222.0,601.0 C1225.7,600.5 1228.0,602.7 1232.0,604.0 C1236.0,605.3 1241.0,608.2 1246.0,609.0 C1251.0,609.8 1256.3,609.7 1262.0,609.0 C1267.7,608.3 1275.0,605.8 1280.0,605.0 C1285.0,604.2 1287.5,603.5 1292.0,604.0 C1296.5,604.5 1301.7,608.2 1307.0,608.0 C1312.3,607.8 1318.5,603.0 1324.0,603.0 C1329.5,603.0 1334.7,605.8 1340.0,608.0 C1345.3,610.2 1351.0,614.2 1356.0,616.0 C1361.0,617.8 1366.0,619.7 1370.0,619.0 C1374.0,618.3 1376.7,616.2 1380.0,612.0 C1383.3,607.8 1387.1,599.3 1390.0,594.0 C1392.9,588.7 1394.7,585.4 1397.3,580.0 C1399.9,574.6 1402.7,569.6 1405.4,561.5 C1408.1,553.4 1410.5,540.2 1413.5,531.1 C1416.5,522.0 1419.9,513.9 1423.6,506.8 C1427.3,499.7 1431.3,493.5 1435.7,488.6 C1440.1,483.7 1445.2,479.9 1449.9,477.4 C1454.6,474.9 1459.2,474.3 1464.1,473.4 C1469.0,472.5 1476.8,472.2 1479.3,472.0"/>
<path d="M1167.0,700.0 C1169.2,696.0 1175.8,682.7 1180.0,676.0 C1184.2,669.3 1187.3,663.7 1192.0,660.0 C1196.7,656.3 1203.3,654.0 1208.0,654.0 C1212.7,654.0 1215.7,657.5 1220.0,660.0 C1224.3,662.5 1230.0,667.7 1234.0,669.0 C1238.0,670.3 1240.3,669.8 1244.0,668.0 C1247.7,666.2 1251.7,662.3 1256.0,658.0 C1260.3,653.7 1265.3,647.0 1270.0,642.0 C1274.7,637.0 1279.7,632.2 1284.0,628.0 C1288.3,623.8 1292.2,620.3 1296.0,617.0 C1299.8,613.7 1303.0,607.5 1307.0,608.0 C1311.0,608.5 1315.5,615.0 1320.0,620.0 C1324.5,625.0 1329.3,632.0 1334.0,638.0 C1338.7,644.0 1343.7,651.0 1348.0,656.0 C1352.3,661.0 1356.7,665.8 1360.0,668.0 C1363.3,670.2 1365.3,670.3 1368.0,669.0 C1370.7,667.7 1373.3,665.5 1376.0,660.0 C1378.7,654.5 1381.3,646.0 1384.0,636.0 C1386.7,626.0 1389.7,610.7 1392.0,600.0 C1394.3,589.3 1396.1,579.5 1398.0,572.0 C1399.9,564.5 1401.1,561.1 1403.3,555.0 C1405.5,548.9 1408.7,541.8 1411.4,535.1 C1414.1,528.4 1416.1,521.3 1419.5,514.9 C1422.9,508.5 1427.3,502.1 1431.7,496.7 C1436.1,491.3 1440.9,486.2 1445.9,482.5 C1451.0,478.8 1456.4,476.1 1462.0,474.4 C1467.6,472.6 1476.4,472.4 1479.3,472.0"/>
<path d="M1167.0,714.0 C1169.2,718.3 1174.5,732.0 1180.0,740.0 C1185.5,748.0 1193.3,756.7 1200.0,762.0 C1206.7,767.3 1213.3,769.5 1220.0,772.0 C1226.7,774.5 1231.7,775.5 1240.0,777.0 C1248.3,778.5 1261.7,779.7 1270.0,781.0 C1278.3,782.3 1283.8,783.5 1290.0,785.0 C1296.2,786.5 1302.0,790.2 1307.0,790.0 C1312.0,789.8 1314.5,786.3 1320.0,784.0 C1325.5,781.7 1334.0,779.3 1340.0,776.0 C1346.0,772.7 1351.0,769.0 1356.0,764.0 C1361.0,759.0 1365.3,754.0 1370.0,746.0 C1374.7,738.0 1379.0,728.3 1384.0,716.0 C1389.0,703.7 1394.7,687.0 1400.0,672.0 C1405.3,657.0 1411.7,639.0 1416.0,626.0 C1420.3,613.0 1422.3,605.1 1425.6,593.8 C1428.9,582.5 1432.3,570.1 1435.7,558.0 C1439.1,545.9 1442.5,531.2 1445.9,521.0 C1449.3,510.8 1452.6,503.4 1456.0,496.7 C1459.4,489.9 1462.2,484.6 1466.1,480.5 C1470.0,476.4 1477.1,473.4 1479.3,472.0"/>
<path d="M1167.0,700.0 C1168.5,705.7 1172.2,722.3 1176.0,734.0 C1179.8,745.7 1185.3,759.0 1190.0,770.0 C1194.7,781.0 1199.7,791.3 1204.0,800.0 C1208.3,808.7 1212.3,816.7 1216.0,822.0 C1219.7,827.3 1223.2,830.0 1226.0,832.0 C1228.8,834.0 1230.7,834.3 1233.0,834.0 C1235.3,833.7 1237.2,831.7 1240.0,830.0 C1242.8,828.3 1245.0,827.0 1250.0,824.0 C1255.0,821.0 1263.3,816.0 1270.0,812.0 C1276.7,808.0 1283.8,803.7 1290.0,800.0 C1296.2,796.3 1302.0,790.0 1307.0,790.0 C1312.0,790.0 1314.5,796.0 1320.0,800.0 C1325.5,804.0 1333.3,810.0 1340.0,814.0 C1346.7,818.0 1355.0,823.3 1360.0,824.0 C1365.0,824.7 1366.7,823.3 1370.0,818.0 C1373.3,812.7 1376.7,803.3 1380.0,792.0 C1383.3,780.7 1386.7,765.3 1390.0,750.0 C1393.3,734.7 1396.7,715.8 1400.0,700.0 C1403.3,684.2 1407.0,668.3 1410.0,655.0 C1413.0,641.7 1415.4,630.8 1418.0,620.0 C1420.6,609.2 1422.6,601.1 1425.6,590.0 C1428.5,578.9 1432.3,565.2 1435.7,553.4 C1439.1,541.5 1442.5,528.7 1445.9,518.9 C1449.3,509.1 1452.3,501.4 1456.0,494.7 C1459.7,488.0 1464.2,482.3 1468.1,478.5 C1472.0,474.7 1477.4,473.1 1479.3,472.0"/>
<path d="M1488.0,75.0 C1488.2,76.0 1487.3,74.5 1489.3,80.8 C1491.3,87.1 1496.6,102.2 1500.0,112.8 C1503.4,123.3 1506.6,133.4 1509.9,144.1 C1513.2,154.8 1516.4,166.0 1519.7,177.0 C1523.0,188.0 1526.3,198.9 1529.6,209.9 C1532.9,220.9 1536.2,231.8 1539.5,242.8 C1542.8,253.8 1546.3,265.3 1549.3,275.7 C1552.3,286.1 1554.8,296.0 1557.6,305.3 C1560.3,314.6 1562.8,323.4 1565.8,331.6 C1568.8,339.8 1572.4,348.3 1575.7,354.6 C1579.0,360.9 1582.0,366.0 1585.5,369.4 C1589.0,372.8 1591.9,374.1 1597.0,375.2 C1602.1,376.3 1611.8,375.9 1616.0,376.0 C1620.2,376.1 1621.0,376.0 1622.0,376.0"/>
<path d="M1489.8,74.6 C1490.0,75.5 1489.0,74.0 1491.0,80.3 C1493.0,86.5 1498.3,101.7 1501.7,112.2 C1505.1,122.8 1508.3,132.9 1511.6,143.6 C1514.9,154.3 1518.1,165.5 1521.4,176.5 C1524.7,187.5 1528.0,198.4 1531.3,209.4 C1534.6,220.3 1537.9,231.3 1541.2,242.3 C1544.5,253.3 1548.0,264.8 1551.0,275.2 C1554.0,285.6 1556.6,295.5 1559.3,304.8 C1562.1,314.1 1564.5,322.8 1567.5,331.0 C1570.5,339.1 1574.1,347.6 1577.3,353.8 C1580.5,360.0 1583.4,364.8 1586.8,368.1 C1590.1,371.4 1592.5,372.4 1597.4,373.4 C1602.3,374.5 1612.0,374.1 1616.1,374.2 C1620.2,374.3 1621.0,374.2 1622.0,374.2"/>
<path d="M1507.0,75.0 C1507.2,76.0 1506.6,74.0 1508.2,80.8 C1509.8,87.6 1513.7,104.7 1516.4,116.1 C1519.2,127.5 1522.0,138.0 1524.7,149.0 C1527.5,160.0 1530.2,170.9 1532.9,181.9 C1535.6,192.9 1538.1,203.8 1541.1,214.8 C1544.1,225.8 1547.4,237.3 1551.0,247.7 C1554.6,258.1 1558.4,268.5 1562.5,277.3 C1566.6,286.1 1571.3,294.0 1575.7,300.3 C1580.1,306.6 1584.4,311.2 1588.8,315.1 C1593.2,319.0 1597.5,321.5 1602.0,323.4 C1606.5,325.3 1612.7,326.0 1616.0,326.6 C1619.3,327.2 1621.0,326.9 1622.0,327.0"/>
<path d="M1510.3,75.0 C1510.5,76.0 1509.9,74.0 1511.5,80.8 C1513.1,87.6 1517.0,104.7 1519.7,116.1 C1522.5,127.5 1525.2,138.0 1528.0,149.0 C1530.8,160.0 1533.5,170.7 1536.2,181.9 C1538.9,193.1 1541.4,204.9 1544.4,216.4 C1547.4,227.9 1550.7,240.0 1554.3,251.0 C1557.9,262.0 1561.7,272.9 1565.8,282.2 C1569.9,291.5 1574.5,300.3 1578.9,306.9 C1583.3,313.5 1587.7,317.9 1592.1,321.7 C1596.5,325.5 1601.3,328.2 1605.3,329.9 C1609.3,331.5 1613.2,331.2 1616.0,331.6 C1618.8,332.0 1621.0,331.9 1622.0,332.0"/>
<path d="M1479.3,472.0 C1481.5,472.1 1487.9,471.0 1492.4,472.4 C1497.0,473.8 1501.9,477.1 1506.6,480.5 C1511.3,483.9 1516.0,488.6 1520.7,492.6 C1525.4,496.7 1530.2,500.8 1534.9,504.8 C1539.6,508.9 1544.0,513.2 1549.1,516.9 C1554.2,520.6 1559.9,524.3 1565.3,527.0 C1570.7,529.7 1576.1,531.4 1581.5,533.1 C1586.9,534.8 1592.0,535.7 1597.7,537.2 C1603.4,538.7 1611.9,541.2 1615.9,542.2 C1620.0,543.2 1621.0,543.3 1622.0,543.5"/>
<path d="M1479.3,472.0 C1479.8,472.2 1479.4,472.0 1482.3,473.4 C1485.2,474.8 1491.4,476.9 1496.5,480.5 C1501.6,484.1 1507.3,489.6 1512.7,494.7 C1518.1,499.8 1523.4,506.2 1528.8,510.9 C1534.2,515.6 1539.6,519.8 1545.0,523.0 C1550.4,526.2 1555.8,528.4 1561.2,530.1 C1566.6,531.9 1571.3,532.2 1577.4,533.5 C1583.5,534.8 1594.3,537.1 1597.7,537.8"/>
<path d="M1479.3,472.0 C1480.8,473.8 1485.5,477.0 1488.4,482.5 C1491.3,488.0 1493.8,495.7 1496.5,504.8 C1499.2,513.9 1501.9,526.1 1504.6,537.2 C1507.3,548.3 1510.0,559.1 1512.7,571.6 C1515.4,584.1 1518.0,598.6 1520.7,612.1 C1523.4,625.6 1526.1,639.1 1528.8,652.6 C1531.5,666.1 1534.3,679.5 1537.0,693.0 C1539.7,706.5 1542.6,722.3 1545.0,733.5 C1547.4,744.7 1549.6,752.1 1551.5,760.0 C1553.4,767.9 1554.9,773.7 1556.6,780.6 C1558.3,787.5 1560.1,795.0 1561.8,801.2 C1563.5,807.4 1564.8,816.8 1566.9,817.7 C1569.0,818.6 1571.6,809.8 1574.6,806.4 C1577.6,803.0 1582.4,799.2 1585.0,797.1 C1587.6,795.0 1587.5,794.8 1590.1,793.5 C1592.7,792.2 1597.0,790.3 1600.4,789.4 C1603.8,788.5 1608.2,788.4 1610.7,788.3 C1613.2,788.2 1613.4,788.7 1615.3,788.9 C1617.2,789.1 1620.9,789.4 1622.0,789.5"/>
<path d="M1479.3,472.0 C1480.1,472.2 1481.4,470.0 1484.3,473.4 C1487.2,476.8 1492.5,483.7 1496.5,492.6 C1500.5,501.5 1504.6,513.8 1508.6,527.0 C1512.6,540.2 1516.7,556.4 1520.7,571.6 C1524.8,586.8 1528.9,602.9 1532.9,618.1 C1537.0,633.3 1541.6,649.9 1545.0,662.7 C1548.4,675.5 1550.9,684.5 1553.5,695.0 C1556.1,705.5 1558.2,716.5 1560.5,726.0 C1562.8,735.5 1565.1,745.3 1567.0,752.0 C1568.9,758.7 1570.3,761.8 1572.0,766.0 C1573.7,770.2 1575.3,773.8 1577.0,777.5 C1578.7,781.2 1580.8,785.4 1582.4,788.3 C1584.0,791.2 1584.8,792.7 1586.5,795.0 C1588.2,797.3 1590.8,800.7 1592.7,802.2 C1594.6,803.8 1596.1,804.8 1597.8,804.3 C1599.5,803.8 1601.3,800.8 1603.0,799.2 C1604.7,797.7 1606.0,796.3 1608.1,795.0 C1610.1,793.7 1613.0,792.6 1615.3,791.4 C1617.6,790.2 1620.9,788.6 1622.0,788.0"/>
<path d="M1555.0,840.0 C1555.3,838.9 1555.5,835.5 1556.6,833.2 C1557.7,830.9 1560.1,827.9 1561.8,826.0 C1563.5,824.1 1565.2,821.2 1566.9,821.8 C1568.6,822.4 1570.1,827.6 1572.1,829.6 C1574.1,831.6 1576.9,833.5 1578.8,833.7 C1580.7,834.0 1582.0,833.1 1583.4,831.1 C1584.9,829.1 1586.0,825.1 1587.5,821.8 C1589.0,818.5 1591.0,813.8 1592.7,811.5 C1594.4,809.2 1596.1,807.9 1597.8,807.9 C1599.5,807.9 1601.3,810.2 1603.0,811.5 C1604.7,812.8 1606.0,814.5 1608.1,815.6 C1610.1,816.7 1613.0,817.6 1615.3,818.2 C1617.6,818.8 1620.9,818.9 1622.0,819.0"/>
<path d="M1578.0,838.0 C1580.5,836.9 1588.5,833.1 1592.7,831.1 C1596.9,829.1 1599.2,827.9 1603.0,826.0 C1606.8,824.1 1612.1,821.3 1615.3,819.8 C1618.5,818.3 1620.9,817.5 1622.0,817.0"/>
</g>
<clipPath id="cBL"><rect x="178.5" y="1077.8" width="691.1" height="759.7"/></clipPath>
<g clip-path="url(#cBL)" fill="none" stroke="#000" stroke-width="2.3" stroke-linejoin="round" stroke-linecap="round">
<line x1="318.7" y1="1077.8" x2="318.7" y2="1837.5" stroke-width="2"/>
<line x1="418.1" y1="1077.8" x2="418.1" y2="1837.5" stroke-width="2"/>
<line x1="557.9" y1="1077.8" x2="557.9" y2="1837.5" stroke-width="2"/>
<line x1="729.3" y1="1077.8" x2="729.3" y2="1837.5" stroke-width="2"/>
<path d="M239.5,1075.0 C239.7,1076.0 239.2,1075.3 240.8,1080.8 C242.4,1086.3 246.3,1100.1 249.0,1107.9 C251.7,1115.7 254.4,1122.1 257.2,1127.6 C259.9,1133.1 262.8,1137.5 265.5,1140.8 C268.2,1144.1 271.0,1146.1 273.7,1147.2 C276.4,1148.3 278.6,1148.0 281.9,1147.2 C285.2,1146.4 289.3,1144.6 293.4,1142.4 C297.5,1140.2 302.3,1137.5 306.6,1134.2 C310.9,1130.9 315.3,1126.5 319.4,1122.7 C323.5,1118.9 327.1,1115.3 331.3,1111.2 C335.5,1107.1 339.8,1102.9 344.4,1098.0 C349.0,1093.1 355.8,1085.4 359.2,1081.6 C362.6,1077.8 364.0,1076.1 365.0,1075.0"/>
<path d="M274.0,1075.0 C274.8,1076.0 276.5,1078.3 278.6,1080.8 C280.7,1083.3 283.2,1086.4 286.8,1089.8 C290.4,1093.2 294.6,1096.0 300.0,1101.3 C305.4,1106.6 313.9,1116.3 319.4,1121.5 C324.9,1126.7 328.2,1128.8 332.9,1132.6 C337.6,1136.4 342.5,1140.6 347.7,1144.1 C352.9,1147.6 359.2,1151.7 364.1,1153.5 C369.0,1155.3 374.0,1156.0 377.3,1155.2 C380.6,1154.5 382.0,1153.3 383.9,1149.0 C385.8,1144.7 387.1,1136.7 388.8,1129.3 C390.5,1121.9 392.2,1112.7 393.8,1104.6 C395.4,1096.5 397.7,1085.7 398.7,1080.8 C399.7,1075.9 399.8,1076.0 400.0,1075.0"/>
<path d="M176.0,1253.0 C176.9,1252.8 179.0,1253.0 181.6,1251.8 C184.2,1250.6 187.0,1249.8 191.4,1246.1 C195.8,1242.4 202.4,1235.4 207.9,1229.6 C213.4,1223.8 218.8,1216.1 224.3,1211.5 C229.8,1206.9 236.4,1202.9 240.8,1201.8 C245.2,1200.7 247.4,1202.5 250.7,1204.9 C254.0,1207.3 257.2,1210.6 260.5,1216.4 C263.8,1222.2 267.1,1230.2 270.4,1239.5 C273.7,1248.8 277.0,1260.9 280.3,1272.4 C283.6,1283.9 286.8,1296.5 290.1,1308.6 C293.4,1320.6 296.7,1333.8 300.0,1344.7 C303.3,1355.7 306.7,1367.4 309.9,1374.3 C313.1,1381.2 316.7,1383.3 319.4,1385.9 C322.1,1388.5 323.8,1390.3 326.3,1390.0 C328.8,1389.7 331.5,1388.5 334.5,1384.2 C337.5,1380.0 340.8,1373.5 344.4,1364.5 C348.0,1355.5 352.1,1343.1 355.9,1329.9 C359.7,1316.7 363.8,1299.8 367.4,1285.5 C371.0,1271.2 374.0,1257.6 377.3,1244.4 C380.6,1231.2 384.2,1215.9 387.2,1206.6 C390.2,1197.3 392.4,1192.3 395.4,1188.5 C398.4,1184.7 401.5,1184.4 405.3,1183.6 C409.1,1182.8 416.0,1183.6 418.1,1183.6"/>
<path d="M176.0,1253.5 C176.9,1253.3 178.9,1253.7 181.6,1252.5 C184.3,1251.3 187.6,1250.2 192.0,1246.5 C196.4,1242.8 202.5,1234.4 207.9,1230.5 C213.3,1226.6 220.2,1224.2 224.3,1223.0 C228.4,1221.8 229.3,1221.3 232.6,1223.0 C235.9,1224.7 240.5,1228.2 244.1,1232.9 C247.7,1237.6 250.7,1243.9 254.0,1251.0 C257.3,1258.1 260.5,1266.7 263.8,1275.7 C267.1,1284.8 270.4,1295.4 273.7,1305.3 C277.0,1315.2 280.3,1325.3 283.6,1334.9 C286.9,1344.5 290.1,1354.8 293.4,1362.8 C296.7,1370.8 300.3,1378.1 303.3,1382.6 C306.3,1387.1 308.8,1389.5 311.5,1390.0 C314.2,1390.5 316.6,1389.1 319.4,1385.9 C322.1,1382.7 324.9,1377.6 328.0,1371.0 C331.1,1364.4 334.2,1356.8 337.8,1346.4 C341.4,1336.0 345.5,1322.0 349.3,1308.6 C353.1,1295.2 357.3,1280.1 360.9,1265.8 C364.5,1251.5 367.7,1236.2 370.7,1223.0 C373.7,1209.8 376.1,1196.4 378.9,1186.8 C381.6,1177.2 384.2,1172.1 387.2,1165.5 C390.2,1158.9 393.4,1153.5 397.0,1147.4 C400.6,1141.3 405.1,1133.1 408.6,1129.0 C412.1,1124.9 416.5,1123.8 418.1,1122.7"/>
<path d="M418.0,1122.0 C420.0,1120.2 425.7,1114.5 430.0,1111.0 C434.3,1107.5 440.0,1104.0 444.0,1101.0 C448.0,1098.0 451.0,1096.3 454.0,1093.0 C457.0,1089.7 460.3,1084.0 462.0,1081.0 C463.7,1078.0 463.7,1076.0 464.0,1075.0"/>
<path d="M418.0,1122.0 C419.3,1124.8 423.3,1133.2 426.0,1139.0 C428.7,1144.8 431.7,1152.3 434.0,1157.0 C436.3,1161.7 438.0,1166.0 440.0,1167.0 C442.0,1168.0 443.7,1166.0 446.0,1163.0 C448.3,1160.0 451.3,1154.7 454.0,1149.0 C456.7,1143.3 459.3,1136.0 462.0,1129.0 C464.7,1122.0 467.3,1115.0 470.0,1107.0 C472.7,1099.0 476.3,1086.3 478.0,1081.0 C479.7,1075.7 479.7,1076.0 480.0,1075.0"/>
<path d="M418.0,1183.6 C419.7,1182.8 424.7,1180.8 428.0,1179.0 C431.3,1177.2 435.7,1173.5 438.0,1173.0 C440.3,1172.5 440.0,1171.0 442.0,1176.0 C444.0,1181.0 447.0,1191.5 450.0,1203.0 C453.0,1214.5 456.7,1231.3 460.0,1245.0 C463.3,1258.7 466.7,1274.3 470.0,1285.0 C473.3,1295.7 476.7,1302.3 480.0,1309.0 C483.3,1315.7 486.7,1320.8 490.0,1325.0 C493.3,1329.2 496.7,1332.1 500.0,1334.0 C503.3,1335.9 506.3,1336.6 510.0,1336.5 C513.7,1336.4 518.0,1334.9 522.0,1333.5 C526.0,1332.1 530.0,1329.6 534.0,1328.0 C538.0,1326.4 542.0,1325.0 546.0,1324.0 C550.0,1323.0 554.0,1322.3 558.0,1322.0 C562.0,1321.7 565.3,1321.3 570.0,1322.0 C574.7,1322.7 580.7,1325.2 586.0,1326.0 C591.3,1326.8 597.3,1327.5 602.0,1327.0 C606.7,1326.5 610.0,1325.7 614.0,1323.0 C618.0,1320.3 622.7,1315.0 626.0,1311.0 C629.3,1307.0 631.0,1304.0 634.0,1299.0 C637.0,1294.0 641.0,1286.8 644.0,1281.0 C647.0,1275.2 649.3,1268.2 652.0,1264.0 C654.7,1259.8 657.3,1256.2 660.0,1256.0 C662.7,1255.8 665.0,1258.8 668.0,1263.0 C671.0,1267.2 674.3,1273.3 678.0,1281.0 C681.7,1288.7 686.0,1299.3 690.0,1309.0 C694.0,1318.7 698.0,1329.5 702.0,1339.0 C706.0,1348.5 710.7,1359.5 714.0,1366.0 C717.3,1372.5 719.4,1374.8 722.0,1378.0 C724.6,1381.2 728.2,1383.8 729.5,1385.0"/>
<path d="M418.0,1184.0 C420.0,1185.8 426.0,1189.8 430.0,1195.0 C434.0,1200.2 438.0,1206.7 442.0,1215.0 C446.0,1223.3 450.0,1235.0 454.0,1245.0 C458.0,1255.0 462.0,1265.0 466.0,1275.0 C470.0,1285.0 474.0,1296.0 478.0,1305.0 C482.0,1314.0 486.0,1322.5 490.0,1329.0 C494.0,1335.5 498.0,1340.8 502.0,1344.0 C506.0,1347.2 510.0,1348.3 514.0,1348.5 C518.0,1348.7 522.0,1347.2 526.0,1345.0 C530.0,1342.8 534.0,1338.0 538.0,1335.0 C542.0,1332.0 546.7,1329.0 550.0,1327.0 C553.3,1325.0 554.7,1323.0 558.0,1323.0 C561.3,1323.0 566.0,1325.0 570.0,1327.0 C574.0,1329.0 578.0,1332.5 582.0,1335.0 C586.0,1337.5 590.0,1340.6 594.0,1342.0 C598.0,1343.4 602.0,1344.7 606.0,1343.5 C610.0,1342.3 614.7,1339.1 618.0,1335.0 C621.3,1330.9 623.3,1324.0 626.0,1319.0 C628.7,1314.0 631.0,1308.3 634.0,1305.0 C637.0,1301.7 640.7,1299.3 644.0,1299.0 C647.3,1298.7 650.3,1299.7 654.0,1303.0 C657.7,1306.3 662.0,1312.3 666.0,1319.0 C670.0,1325.7 674.0,1335.7 678.0,1343.0 C682.0,1350.3 686.0,1356.7 690.0,1363.0 C694.0,1369.3 698.0,1376.2 702.0,1381.0 C706.0,1385.8 710.7,1390.1 714.0,1392.0 C717.3,1393.9 719.4,1393.5 722.0,1392.5 C724.6,1391.5 728.2,1387.1 729.5,1386.0"/>
<path d="M629.7,1075.0 C629.8,1076.2 628.0,1078.0 630.0,1082.0 C632.0,1086.0 638.3,1091.8 642.0,1099.0 C645.7,1106.2 649.0,1115.7 652.0,1125.0 C655.0,1134.3 657.3,1143.3 660.0,1155.0 C662.7,1166.7 665.3,1181.7 668.0,1195.0 C670.7,1208.3 673.3,1221.7 676.0,1235.0 C678.7,1248.3 681.3,1262.3 684.0,1275.0 C686.7,1287.7 689.3,1300.3 692.0,1311.0 C694.7,1321.7 697.0,1330.7 700.0,1339.0 C703.0,1347.3 706.7,1354.8 710.0,1361.0 C713.3,1367.2 716.8,1372.0 720.0,1376.0 C723.2,1380.0 727.9,1383.5 729.5,1385.0"/>
<path d="M637.5,1075.0 C637.6,1076.2 636.2,1077.7 638.0,1082.0 C639.8,1086.3 645.0,1092.2 648.0,1101.0 C651.0,1109.8 653.3,1122.7 656.0,1135.0 C658.7,1147.3 661.3,1161.7 664.0,1175.0 C666.7,1188.3 669.3,1201.7 672.0,1215.0 C674.7,1228.3 677.3,1242.3 680.0,1255.0 C682.7,1267.7 685.3,1279.3 688.0,1291.0 C690.7,1302.7 693.0,1314.7 696.0,1325.0 C699.0,1335.3 702.3,1345.0 706.0,1353.0 C709.7,1361.0 714.1,1367.7 718.0,1373.0 C721.9,1378.3 727.6,1383.0 729.5,1385.0"/>
<path d="M645.5,1075.0 C645.6,1076.2 644.9,1079.0 646.0,1082.0 C647.1,1085.0 650.3,1084.5 652.0,1093.0 C653.7,1101.5 655.1,1123.9 656.4,1133.0 C657.7,1142.1 658.4,1141.2 660.0,1147.7 C661.6,1154.2 664.3,1163.3 666.1,1172.0 C667.9,1180.7 669.6,1190.3 670.9,1200.0 C672.2,1209.7 672.1,1219.2 674.0,1230.0 C675.9,1240.8 679.3,1254.0 682.0,1265.0 C684.7,1276.0 687.3,1286.5 690.0,1296.0 C692.7,1305.5 695.0,1313.0 698.0,1322.0 C701.0,1331.0 704.7,1342.0 708.0,1350.0 C711.3,1358.0 714.4,1364.2 718.0,1370.0 C721.6,1375.8 727.6,1382.5 729.5,1385.0"/>
<path d="M666.1,1141.7 C666.9,1144.7 669.3,1153.8 670.9,1159.8 C672.5,1165.8 674.4,1171.3 675.8,1178.0 C677.2,1184.7 678.0,1190.5 679.4,1200.0 C680.8,1209.5 682.2,1223.3 684.0,1235.0 C685.8,1246.7 688.0,1259.2 690.0,1270.0 C692.0,1280.8 693.7,1289.2 696.0,1300.0 C698.3,1310.8 701.0,1324.7 704.0,1335.0 C707.0,1345.3 709.8,1353.7 714.0,1362.0 C718.2,1370.3 726.9,1381.2 729.5,1385.0"/>
<path d="M641.8,1075.0 C642.2,1077.6 642.6,1087.6 644.2,1090.8 C645.8,1094.0 649.5,1094.2 651.5,1094.4 C653.5,1094.6 655.0,1090.2 656.4,1092.0 C657.8,1093.8 658.4,1099.2 660.0,1105.3 C661.6,1111.3 664.3,1124.0 666.1,1128.3 C667.9,1132.5 668.9,1131.6 670.9,1130.8 C672.9,1130.0 675.4,1126.5 678.2,1123.5 C681.0,1120.5 684.3,1115.6 687.9,1112.6 C691.5,1109.6 696.0,1106.0 700.0,1105.3 C704.0,1104.6 708.3,1106.7 712.1,1108.3 C715.9,1109.9 720.1,1112.8 723.0,1115.0 C725.9,1117.2 726.7,1119.3 729.7,1121.7 C732.7,1124.1 737.3,1126.6 741.2,1129.5 C745.1,1132.4 749.2,1136.4 753.3,1139.2 C757.3,1142.0 761.9,1145.1 765.5,1146.5 C769.1,1147.9 772.2,1148.3 775.2,1147.7 C778.2,1147.1 780.8,1146.1 783.6,1142.9 C786.4,1139.7 789.5,1134.6 792.1,1128.3 C794.7,1122.0 797.0,1113.0 799.4,1105.3 C801.8,1097.6 805.2,1087.3 806.7,1082.3 C808.2,1077.2 808.2,1076.2 808.5,1075.0"/>
<path d="M671.0,1075.0 C671.2,1076.2 670.9,1078.7 672.1,1082.3 C673.3,1085.9 676.0,1091.5 678.2,1096.8 C680.4,1102.0 683.1,1109.3 685.5,1113.8 C687.9,1118.2 689.9,1120.9 692.7,1123.5 C695.5,1126.1 699.2,1128.3 702.4,1129.5 C705.6,1130.7 708.7,1131.4 712.1,1130.8 C715.5,1130.2 720.1,1127.4 723.0,1125.9 C725.9,1124.4 726.7,1124.1 729.7,1121.7 C732.7,1119.3 737.3,1115.2 741.2,1111.4 C745.1,1107.7 749.2,1103.2 753.3,1099.2 C757.3,1095.2 762.4,1091.1 765.5,1087.1 C768.6,1083.1 770.9,1077.0 772.0,1075.0"/>
<path d="M710.5,1075.0 C710.8,1076.1 710.4,1077.7 712.1,1081.7 C713.8,1085.7 718.2,1093.9 720.6,1099.2 C723.0,1104.5 725.2,1110.0 726.7,1113.8 C728.2,1117.5 730.1,1118.1 729.7,1121.7 C729.3,1125.3 726.5,1130.4 724.2,1135.6 C721.9,1140.8 719.0,1147.3 715.8,1152.6 C712.6,1157.8 708.6,1163.7 704.8,1167.1 C700.9,1170.5 696.3,1172.8 692.7,1173.2 C689.1,1173.6 686.2,1172.5 683.0,1169.5 C679.8,1166.5 675.9,1159.4 673.3,1155.0 C670.7,1150.6 669.0,1147.1 667.3,1142.9 C665.6,1138.7 663.7,1132.2 663.0,1130.0"/>
<path d="M729.1,1385.9 C730.5,1386.4 734.9,1389.6 737.7,1389.1 C740.5,1388.5 742.9,1387.8 745.9,1382.6 C748.9,1377.4 752.5,1367.5 755.8,1357.9 C759.1,1348.3 762.4,1337.1 765.7,1325.0 C769.0,1312.9 772.2,1298.0 775.5,1285.5 C778.8,1273.0 782.1,1259.6 785.4,1250.0 C788.7,1240.4 792.0,1232.8 795.3,1228.0 C798.6,1223.2 801.5,1222.1 805.1,1221.0 C808.7,1219.9 812.8,1220.6 816.6,1221.5 C820.5,1222.4 824.1,1224.2 828.2,1226.5 C832.3,1228.8 836.9,1231.9 841.3,1235.0 C845.7,1238.1 850.2,1242.3 854.5,1245.0 C858.8,1247.7 863.9,1249.8 866.8,1251.0 C869.7,1252.2 871.1,1251.8 872.0,1252.0"/>
<path d="M729.1,1385.9 C730.8,1383.4 735.9,1377.6 739.3,1371.0 C742.6,1364.4 745.9,1356.0 749.2,1346.4 C752.5,1336.8 755.8,1324.8 759.1,1313.5 C762.4,1302.2 765.6,1290.1 768.9,1278.9 C772.2,1267.7 775.5,1255.9 778.8,1246.1 C782.1,1236.3 785.7,1226.5 788.7,1220.0 C791.7,1213.5 794.0,1210.2 797.0,1207.0 C800.0,1203.8 803.3,1201.4 806.8,1200.8 C810.3,1200.2 814.1,1201.5 818.0,1203.5 C821.9,1205.5 825.8,1209.1 830.0,1213.0 C834.2,1216.9 838.9,1222.6 843.0,1227.0 C847.1,1231.4 850.5,1235.5 854.5,1239.5 C858.5,1243.5 864.8,1249.1 866.8,1251.0"/>
<path d="M176.0,1533.4 C177.0,1533.4 179.3,1532.7 182.1,1533.4 C184.9,1534.1 188.9,1535.3 192.7,1537.8 C196.5,1540.3 200.7,1543.5 205.1,1548.5 C209.5,1553.5 214.6,1561.2 219.3,1568.0 C224.0,1574.8 228.8,1582.1 233.5,1589.2 C238.2,1596.3 243.2,1604.0 247.6,1610.5 C252.0,1617.0 256.4,1624.1 260.0,1628.2 C263.6,1632.3 265.9,1633.8 268.9,1635.3 C271.9,1636.8 274.6,1637.7 277.8,1637.1 C281.1,1636.5 284.3,1633.3 288.4,1631.7 C292.5,1630.1 297.4,1628.0 302.6,1627.3 C307.8,1626.6 314.7,1627.4 319.4,1627.3 C324.1,1627.2 326.9,1626.0 330.9,1626.4 C334.9,1626.9 339.8,1628.8 343.3,1630.0 C346.9,1631.2 349.2,1632.9 352.2,1633.5 C355.1,1634.1 358.1,1634.4 361.0,1633.5 C363.9,1632.6 366.0,1630.6 369.9,1628.2 C373.8,1625.8 379.4,1621.8 384.1,1619.3 C388.8,1616.8 393.8,1614.4 398.2,1613.1 C402.6,1611.8 407.4,1611.6 410.7,1611.4 C414.0,1611.2 416.8,1611.9 418.0,1612.0"/>
<path d="M176.0,1534.3 C177.0,1534.3 177.2,1531.6 182.1,1534.3 C186.9,1537.0 198.9,1544.0 205.1,1550.2 C211.3,1556.4 214.6,1563.8 219.3,1571.5 C224.0,1579.2 228.8,1588.6 233.5,1596.3 C238.2,1604.0 243.2,1610.8 247.6,1617.6 C252.0,1624.4 256.1,1632.2 260.0,1637.1 C263.9,1642.0 267.1,1644.9 270.7,1646.8 C274.2,1648.7 277.8,1649.3 281.3,1648.6 C284.9,1647.9 288.2,1644.9 292.0,1642.4 C295.8,1639.9 299.7,1635.9 304.3,1633.5 C308.9,1631.1 315.0,1628.5 319.4,1628.2 C323.8,1627.9 326.6,1629.6 330.9,1631.7 C335.2,1633.8 340.4,1638.2 345.1,1640.6 C349.8,1643.0 355.2,1644.1 359.3,1645.9 C363.4,1647.7 365.8,1648.5 369.9,1651.2 C374.0,1653.9 379.4,1659.0 384.1,1661.9 C388.8,1664.8 393.8,1667.2 398.2,1668.5 C402.6,1669.8 407.4,1669.4 410.7,1669.5 C414.0,1669.6 416.8,1669.1 418.0,1669.0"/>
<path d="M176.0,1758.0 C177.0,1757.9 178.7,1758.8 182.1,1757.5 C185.5,1756.2 191.6,1754.3 196.3,1750.5 C201.0,1746.7 205.4,1741.0 210.4,1734.5 C215.4,1728.0 221.1,1719.5 226.4,1711.5 C231.7,1703.5 237.3,1694.1 242.3,1686.7 C247.3,1679.3 251.5,1671.8 256.5,1667.2 C261.5,1662.6 267.7,1659.2 272.4,1659.2 C277.1,1659.2 280.5,1663.5 284.9,1667.2 C289.3,1670.9 293.2,1676.8 299.0,1681.4 C304.8,1686.0 313.5,1693.7 319.4,1694.6 C325.3,1695.5 329.3,1689.3 334.5,1686.7 C339.7,1684.1 345.7,1679.3 350.4,1678.7 C355.1,1678.1 358.1,1680.6 362.8,1683.1 C367.5,1685.6 373.2,1689.9 378.8,1693.8 C384.4,1697.7 391.2,1702.7 396.5,1706.2 C401.8,1709.7 407.1,1712.9 410.7,1715.0 C414.3,1717.1 416.8,1718.0 418.0,1718.6"/>
<path d="M176.0,1758.0 C177.0,1757.9 177.8,1758.5 182.1,1757.5 C186.4,1756.5 195.4,1755.5 201.6,1752.2 C207.8,1749.0 213.4,1742.7 219.3,1738.0 C225.2,1733.3 231.1,1728.0 237.0,1723.9 C242.9,1719.8 249.4,1715.7 254.7,1713.2 C260.0,1710.7 264.5,1709.1 268.9,1708.8 C273.3,1708.5 277.4,1711.0 281.3,1711.5 C285.2,1712.0 288.2,1712.7 292.0,1711.5 C295.8,1710.3 299.7,1707.2 304.3,1704.4 C308.9,1701.6 315.0,1695.2 319.4,1694.6 C323.8,1694.0 326.3,1698.3 330.9,1700.8 C335.5,1703.3 341.6,1707.9 346.9,1709.7 C352.2,1711.5 357.5,1710.6 362.8,1711.5 C368.1,1712.4 373.5,1713.2 378.8,1715.0 C384.1,1716.8 389.7,1720.9 394.7,1722.1 C399.7,1723.3 405.0,1722.7 408.9,1722.1 C412.8,1721.5 416.5,1719.2 418.0,1718.6"/>
<path d="M256.5,1840.0 C256.8,1839.0 256.5,1840.4 258.3,1833.7 C260.1,1827.0 263.9,1810.1 267.1,1800.1 C270.4,1790.1 274.0,1779.8 277.8,1773.5 C281.6,1767.2 286.1,1762.0 290.2,1762.0 C294.3,1762.0 298.8,1768.0 302.6,1773.5 C306.4,1779.0 310.4,1789.1 313.2,1794.7 C316.0,1800.3 316.8,1800.7 319.4,1807.2 C322.0,1813.7 327.2,1828.2 329.1,1833.7 C331.0,1839.2 330.7,1839.0 331.0,1840.0"/>
<path d="M305.5,1840.0 C305.9,1839.0 305.6,1839.2 307.9,1833.7 C310.2,1828.2 315.6,1816.1 319.4,1807.2 C323.2,1798.3 327.2,1787.7 330.9,1780.6 C334.6,1773.5 338.2,1767.8 341.5,1764.6 C344.8,1761.3 347.1,1760.2 350.4,1761.1 C353.6,1762.0 356.9,1765.0 361.0,1770.0 C365.1,1775.0 370.8,1784.1 375.2,1791.2 C379.6,1798.3 383.5,1805.4 387.6,1812.5 C391.7,1819.6 397.4,1829.1 400.0,1833.7 C402.6,1838.3 402.5,1839.0 403.0,1840.0"/>
<path d="M418.0,1612.0 C420.0,1610.0 424.7,1605.3 430.0,1600.0 C435.3,1594.7 443.3,1586.7 450.0,1580.0 C456.7,1573.3 463.3,1565.3 470.0,1560.0 C476.7,1554.7 484.7,1550.3 490.0,1548.0 C495.3,1545.7 497.3,1545.3 502.0,1546.0 C506.7,1546.7 512.7,1548.7 518.0,1552.0 C523.3,1555.3 529.0,1561.7 534.0,1566.0 C539.0,1570.3 544.0,1574.5 548.0,1578.0 C552.0,1581.5 556.3,1585.5 558.0,1587.0"/>
<path d="M418.0,1669.0 C419.7,1668.2 424.3,1668.8 428.0,1664.0 C431.7,1659.2 436.3,1648.3 440.0,1640.0 C443.7,1631.7 446.7,1622.3 450.0,1614.0 C453.3,1605.7 456.7,1597.3 460.0,1590.0 C463.3,1582.7 466.3,1575.7 470.0,1570.0 C473.7,1564.3 477.7,1559.2 482.0,1556.0 C486.3,1552.8 491.3,1551.3 496.0,1551.0 C500.7,1550.7 505.0,1552.2 510.0,1554.0 C515.0,1555.8 520.7,1558.3 526.0,1562.0 C531.3,1565.7 536.7,1571.8 542.0,1576.0 C547.3,1580.2 555.3,1585.2 558.0,1587.0"/>
<path d="M418.0,1612.0 C420.0,1613.3 426.3,1617.8 430.0,1620.0 C433.7,1622.2 436.7,1624.3 440.0,1625.0 C443.3,1625.7 446.3,1625.2 450.0,1624.0 C453.7,1622.8 457.7,1621.0 462.0,1618.0 C466.3,1615.0 470.7,1609.5 476.0,1606.0 C481.3,1602.5 487.7,1598.8 494.0,1597.0 C500.3,1595.2 508.0,1595.7 514.0,1595.0 C520.0,1594.3 524.7,1593.7 530.0,1593.0 C535.3,1592.3 541.3,1591.3 546.0,1591.0 C550.7,1590.7 556.0,1591.0 558.0,1591.0"/>
<path d="M418.0,1669.0 C421.0,1668.2 430.0,1667.2 436.0,1664.0 C442.0,1660.8 448.3,1655.7 454.0,1650.0 C459.7,1644.3 464.7,1636.0 470.0,1630.0 C475.3,1624.0 480.7,1618.0 486.0,1614.0 C491.3,1610.0 496.0,1607.8 502.0,1606.0 C508.0,1604.2 516.7,1604.0 522.0,1603.0 C527.3,1602.0 529.3,1601.5 534.0,1600.0 C538.7,1598.5 546.0,1595.5 550.0,1594.0 C554.0,1592.5 556.7,1591.5 558.0,1591.0"/>
<path d="M558.0,1587.0 C560.0,1585.8 565.3,1583.5 570.0,1580.0 C574.7,1576.5 580.7,1570.3 586.0,1566.0 C591.3,1561.7 596.7,1557.3 602.0,1554.0 C607.3,1550.7 612.3,1547.8 618.0,1546.0 C623.7,1544.2 630.7,1543.0 636.0,1543.0 C641.3,1543.0 645.7,1543.8 650.0,1546.0 C654.3,1548.2 658.0,1551.7 662.0,1556.0 C666.0,1560.3 670.0,1565.7 674.0,1572.0 C678.0,1578.3 682.3,1587.7 686.0,1594.0 C689.7,1600.3 692.7,1605.7 696.0,1610.0 C699.3,1614.3 702.3,1617.7 706.0,1620.0 C709.7,1622.3 714.2,1622.7 718.0,1624.0 C721.8,1625.3 727.2,1627.3 729.0,1628.0"/>
<path d="M559.3,1589.2 C561.3,1588.0 566.8,1585.5 571.5,1582.0 C576.2,1578.5 582.3,1572.3 587.6,1567.9 C592.9,1563.6 598.1,1559.4 603.3,1556.1 C608.5,1552.9 613.3,1550.1 618.8,1548.4 C624.2,1546.6 631.0,1545.5 636.0,1545.5 C641.0,1545.5 644.9,1546.2 648.9,1548.2 C652.9,1550.3 656.3,1553.5 660.2,1557.7 C664.0,1561.9 667.9,1567.1 671.9,1573.3 C675.8,1579.6 680.1,1588.9 683.8,1595.3 C687.5,1601.6 690.5,1607.0 694.0,1611.5 C697.5,1616.0 700.8,1619.6 704.7,1622.1 C708.5,1624.6 713.3,1625.0 717.2,1626.4 C721.1,1627.7 726.3,1629.7 728.1,1630.3"/>
<path d="M558.0,1591.0 C560.7,1591.5 568.0,1592.5 574.0,1594.0 C580.0,1595.5 588.0,1598.0 594.0,1600.0 C600.0,1602.0 604.7,1603.7 610.0,1606.0 C615.3,1608.3 621.0,1611.0 626.0,1614.0 C631.0,1617.0 635.3,1620.3 640.0,1624.0 C644.7,1627.7 649.3,1632.3 654.0,1636.0 C658.7,1639.7 664.0,1643.5 668.0,1646.0 C672.0,1648.5 674.3,1650.3 678.0,1651.0 C681.7,1651.7 686.0,1651.2 690.0,1650.0 C694.0,1648.8 698.0,1646.3 702.0,1644.0 C706.0,1641.7 709.5,1638.7 714.0,1636.0 C718.5,1633.3 726.5,1629.3 729.0,1628.0"/>
<path d="M558.0,1591.0 C561.0,1591.8 570.0,1593.5 576.0,1596.0 C582.0,1598.5 589.0,1603.8 594.0,1606.0 C599.0,1608.2 601.3,1607.3 606.0,1609.0 C610.7,1610.7 616.7,1612.8 622.0,1616.0 C627.3,1619.2 632.7,1623.7 638.0,1628.0 C643.3,1632.3 649.0,1637.7 654.0,1642.0 C659.0,1646.3 664.0,1651.7 668.0,1654.0 C672.0,1656.3 674.3,1655.8 678.0,1656.0 C681.7,1656.2 686.3,1656.0 690.0,1655.0 C693.7,1654.0 696.7,1652.2 700.0,1650.0 C703.3,1647.8 706.7,1644.5 710.0,1642.0 C713.3,1639.5 716.8,1637.3 720.0,1635.0 C723.2,1632.7 727.5,1629.2 729.0,1628.0"/>
<path d="M494.0,1738.0 C496.0,1734.3 502.0,1723.7 506.0,1716.0 C510.0,1708.3 514.0,1700.7 518.0,1692.0 C522.0,1683.3 526.0,1672.7 530.0,1664.0 C534.0,1655.3 538.3,1646.3 542.0,1640.0 C545.7,1633.7 549.3,1628.8 552.0,1626.0 C554.7,1623.2 555.7,1623.3 558.0,1623.0 C560.3,1622.7 563.0,1621.2 566.0,1624.0 C569.0,1626.8 572.7,1634.0 576.0,1640.0 C579.3,1646.0 582.7,1653.3 586.0,1660.0 C589.3,1666.7 592.7,1673.3 596.0,1680.0 C599.3,1686.7 602.7,1694.3 606.0,1700.0 C609.3,1705.7 612.7,1710.7 616.0,1714.0 C619.3,1717.3 622.7,1718.7 626.0,1720.0 C629.3,1721.3 632.7,1722.3 636.0,1722.0 C639.3,1721.7 642.0,1722.7 646.0,1718.0 C650.0,1713.3 655.3,1702.3 660.0,1694.0 C664.7,1685.7 670.3,1674.0 674.0,1668.0 C677.7,1662.0 678.7,1663.7 682.0,1658.0 C685.3,1652.3 691.0,1638.3 694.0,1634.0 C697.0,1629.7 697.3,1631.3 700.0,1632.0 C702.7,1632.7 707.0,1637.7 710.0,1638.0 C713.0,1638.3 714.8,1635.7 718.0,1634.0 C721.2,1632.3 727.2,1629.0 729.0,1628.0"/>
<path d="M492.2,1737.0 C494.2,1733.4 500.2,1722.7 504.2,1715.1 C508.2,1707.4 512.2,1699.8 516.2,1691.2 C520.2,1682.5 524.2,1671.9 528.2,1663.2 C532.2,1654.5 536.5,1645.4 540.3,1639.0 C544.0,1632.6 547.6,1627.6 550.5,1624.6 C553.5,1621.6 554.9,1621.4 557.7,1621.0 C560.5,1620.7 564.0,1619.5 567.4,1622.5 C570.7,1625.5 574.3,1632.9 577.7,1639.0 C581.2,1645.1 584.4,1652.4 587.8,1659.1 C591.1,1665.8 594.5,1672.4 597.8,1679.1 C601.1,1685.8 606.1,1695.8 607.8,1699.1"/>
<path d="M606.0,1700.0 C607.7,1702.0 612.0,1709.3 616.0,1712.0 C620.0,1714.7 625.3,1717.0 630.0,1716.0 C634.7,1715.0 639.0,1710.7 644.0,1706.0 C649.0,1701.3 654.7,1694.0 660.0,1688.0 C665.3,1682.0 671.0,1674.3 676.0,1670.0 C681.0,1665.7 685.3,1662.7 690.0,1662.0 C694.7,1661.3 699.7,1663.0 704.0,1666.0 C708.3,1669.0 711.8,1675.0 716.0,1680.0 C720.2,1685.0 726.8,1693.3 729.0,1696.0"/>
<path d="M418.0,1718.0 C421.0,1714.7 430.7,1701.0 436.0,1698.0 C441.3,1695.0 445.0,1697.7 450.0,1700.0 C455.0,1702.3 460.7,1707.7 466.0,1712.0 C471.3,1716.3 477.3,1723.3 482.0,1726.0 C486.7,1728.7 490.0,1729.3 494.0,1728.0 C498.0,1726.7 501.3,1724.7 506.0,1718.0 C510.7,1711.3 517.7,1693.8 522.0,1688.0 C526.3,1682.2 528.0,1683.5 532.0,1683.0 C536.0,1682.5 541.7,1684.2 546.0,1685.0 C550.3,1685.8 554.0,1688.0 558.0,1688.0 C562.0,1688.0 565.3,1686.2 570.0,1685.0 C574.7,1683.8 581.7,1681.2 586.0,1681.0 C590.3,1680.8 592.0,1681.8 596.0,1684.0 C600.0,1686.2 605.0,1690.3 610.0,1694.0 C615.0,1697.7 620.7,1702.7 626.0,1706.0 C631.3,1709.3 636.7,1712.0 642.0,1714.0 C647.3,1716.0 652.7,1716.3 658.0,1718.0 C663.3,1719.7 669.3,1721.0 674.0,1724.0 C678.7,1727.0 682.3,1732.0 686.0,1736.0 C689.7,1740.0 693.0,1745.3 696.0,1748.0 C699.0,1750.7 701.3,1753.3 704.0,1752.0 C706.7,1750.7 709.3,1745.3 712.0,1740.0 C714.7,1734.7 717.2,1727.3 720.0,1720.0 C722.8,1712.7 727.5,1700.0 729.0,1696.0"/>
<path d="M418.0,1720.0 C421.0,1719.0 430.7,1714.0 436.0,1714.0 C441.3,1714.0 445.7,1717.3 450.0,1720.0 C454.3,1722.7 458.0,1727.0 462.0,1730.0 C466.0,1733.0 469.3,1736.5 474.0,1738.0 C478.7,1739.5 485.3,1740.7 490.0,1739.0 C494.7,1737.3 498.0,1732.2 502.0,1728.0 C506.0,1723.8 510.0,1718.3 514.0,1714.0 C518.0,1709.7 521.3,1705.3 526.0,1702.0 C530.7,1698.7 536.7,1696.2 542.0,1694.0 C547.3,1691.8 553.3,1689.0 558.0,1689.0 C562.7,1689.0 565.3,1691.8 570.0,1694.0 C574.7,1696.2 580.7,1698.3 586.0,1702.0 C591.3,1705.7 596.7,1710.7 602.0,1716.0 C607.3,1721.3 612.7,1728.7 618.0,1734.0 C623.3,1739.3 628.7,1744.3 634.0,1748.0 C639.3,1751.7 644.7,1754.5 650.0,1756.0 C655.3,1757.5 660.7,1757.7 666.0,1757.0 C671.3,1756.3 676.7,1754.8 682.0,1752.0 C687.3,1749.2 692.7,1745.3 698.0,1740.0 C703.3,1734.7 708.8,1727.3 714.0,1720.0 C719.2,1712.7 726.5,1700.0 729.0,1696.0"/>
<path d="M418.0,1714.0 C420.0,1715.7 426.0,1721.0 430.0,1724.0 C434.0,1727.0 438.0,1730.5 442.0,1732.0 C446.0,1733.5 450.0,1733.7 454.0,1733.0 C458.0,1732.3 462.0,1729.2 466.0,1728.0 C470.0,1726.8 474.0,1726.0 478.0,1726.0 C482.0,1726.0 486.3,1727.0 490.0,1728.0 C493.7,1729.0 498.3,1731.3 500.0,1732.0"/>
<path d="M418.0,1718.0 C419.3,1720.3 422.7,1728.3 426.0,1732.0 C429.3,1735.7 434.0,1738.3 438.0,1740.0 C442.0,1741.7 446.0,1741.2 450.0,1742.0 C454.0,1742.8 458.0,1744.3 462.0,1745.0 C466.0,1745.7 470.0,1746.5 474.0,1746.0 C478.0,1745.5 482.3,1743.7 486.0,1742.0 C489.7,1740.3 494.3,1737.0 496.0,1736.0"/>
<path d="M480.0,1840.0 C480.3,1839.0 479.7,1836.3 482.0,1834.0 C484.3,1831.7 490.0,1827.7 494.0,1826.0 C498.0,1824.3 502.0,1823.8 506.0,1824.0 C510.0,1824.2 514.0,1825.5 518.0,1827.0 C522.0,1828.5 527.3,1830.8 530.0,1833.0 C532.7,1835.2 533.3,1838.8 534.0,1840.0"/>
<path d="M579.0,1840.0 C579.5,1839.0 578.8,1836.7 582.0,1834.0 C585.2,1831.3 592.0,1827.3 598.0,1824.0 C604.0,1820.7 612.0,1816.0 618.0,1814.0 C624.0,1812.0 628.7,1812.7 634.0,1812.0 C639.3,1811.3 645.3,1811.7 650.0,1810.0 C654.7,1808.3 657.7,1806.0 662.0,1802.0 C666.3,1798.0 671.3,1791.0 676.0,1786.0 C680.7,1781.0 686.3,1774.7 690.0,1772.0 C693.7,1769.3 695.3,1770.5 698.0,1770.0 C700.7,1769.5 703.0,1767.3 706.0,1769.0 C709.0,1770.7 713.3,1776.2 716.0,1780.0 C718.7,1783.8 719.8,1788.0 722.0,1792.0 C724.2,1796.0 727.8,1802.0 729.0,1804.0"/>
<path d="M668.0,1840.0 C668.3,1839.0 668.0,1838.7 670.0,1834.0 C672.0,1829.3 676.7,1819.3 680.0,1812.0 C683.3,1804.7 687.0,1796.3 690.0,1790.0 C693.0,1783.7 695.7,1777.7 698.0,1774.0 C700.3,1770.3 702.0,1768.0 704.0,1768.0 C706.0,1768.0 707.3,1770.7 710.0,1774.0 C712.7,1777.3 716.8,1783.0 720.0,1788.0 C723.2,1793.0 725.7,1798.0 729.0,1804.0 C732.3,1810.0 737.2,1818.0 740.0,1824.0 C742.8,1830.0 745.0,1837.3 746.0,1840.0"/>
<path d="M709.0,1840.0 C709.5,1839.0 709.8,1837.7 712.0,1834.0 C714.2,1830.3 719.2,1822.7 722.0,1818.0 C724.8,1813.3 726.3,1811.7 729.0,1806.0 C731.7,1800.3 735.0,1790.5 738.2,1784.0 C741.5,1777.5 745.1,1770.4 748.5,1766.8 C751.9,1763.2 755.6,1761.9 758.8,1762.5 C762.0,1763.1 764.3,1765.2 767.5,1770.2 C770.7,1775.2 774.6,1784.6 777.8,1792.6 C780.9,1800.6 784.1,1811.5 786.4,1818.4 C788.7,1825.3 790.5,1830.3 791.6,1833.9 C792.7,1837.5 792.8,1839.0 793.0,1840.0"/>
<path d="M729.9,1802.9 C730.8,1805.4 733.0,1812.8 735.0,1818.0 C737.0,1823.2 740.1,1830.2 741.6,1833.9 C743.1,1837.6 743.6,1839.0 744.0,1840.0"/>
<path d="M620.0,1838.0 C621.0,1837.2 624.0,1833.0 626.0,1833.0 C628.0,1833.0 631.0,1837.2 632.0,1838.0"/>
<path d="M729.9,1628.2 C731.9,1628.1 737.4,1627.0 741.6,1627.4 C745.9,1627.8 750.2,1629.2 755.4,1630.8 C760.6,1632.4 767.7,1636.8 772.6,1636.8 C777.5,1636.8 779.8,1635.8 784.7,1630.8 C789.6,1625.8 796.2,1614.7 801.9,1606.7 C807.6,1598.7 813.4,1590.6 819.1,1582.6 C824.8,1574.6 830.6,1565.7 836.3,1558.5 C842.0,1551.3 848.6,1543.6 853.5,1539.6 C858.4,1535.6 862.5,1535.3 865.6,1534.4 C868.7,1533.5 870.9,1534.1 872.0,1534.0"/>
<path d="M729.9,1628.2 C731.9,1628.9 737.4,1630.3 741.6,1632.5 C745.9,1634.7 750.2,1638.5 755.4,1641.1 C760.6,1643.7 767.7,1647.7 772.6,1648.0 C777.5,1648.3 779.8,1647.5 784.7,1642.9 C789.6,1638.3 796.2,1628.2 801.9,1620.5 C807.6,1612.8 813.4,1605.0 819.1,1596.4 C824.8,1587.8 830.6,1577.4 836.3,1568.8 C842.0,1560.2 848.6,1550.5 853.5,1544.8 C858.4,1539.1 863.6,1536.1 865.6,1534.4"/>
<path d="M729.9,1695.4 C731.9,1694.1 737.4,1691.2 741.6,1687.6 C745.9,1684.0 751.1,1677.8 755.4,1673.8 C759.7,1669.8 764.0,1665.9 767.5,1663.5 C771.0,1661.1 773.0,1658.9 776.1,1659.2 C779.2,1659.5 782.1,1660.8 786.4,1665.2 C790.7,1669.7 796.4,1678.2 801.9,1685.9 C807.4,1693.7 813.4,1703.1 819.1,1711.7 C824.8,1720.3 830.6,1730.6 836.3,1737.5 C842.0,1744.4 848.6,1749.5 853.5,1753.0 C858.4,1756.5 862.5,1757.3 865.6,1758.2 C868.7,1759.1 870.9,1758.5 872.0,1758.5"/>
<path d="M729.9,1695.4 C731.9,1696.4 736.8,1698.7 741.6,1701.4 C746.4,1704.1 753.0,1710.4 758.8,1711.7 C764.5,1713.0 770.4,1708.2 776.1,1709.1 C781.9,1710.0 787.6,1713.6 793.3,1716.9 C799.0,1720.2 804.8,1724.9 810.5,1728.9 C816.2,1732.9 822.0,1737.3 827.7,1741.0 C833.4,1744.7 838.6,1748.4 844.9,1751.3 C851.2,1754.2 862.1,1757.0 865.6,1758.2"/>
</g>
<clipPath id="cBR"><rect x="927.8" y="1077.8" width="691.3" height="759.7"/></clipPath>
<g clip-path="url(#cBR)" fill="none" stroke="#000" stroke-width="2.3" stroke-linejoin="round" stroke-linecap="round">
<line x1="1067.3" y1="1077.8" x2="1067.3" y2="1837.5" stroke-width="2"/>
<line x1="1165.2" y1="1077.8" x2="1165.2" y2="1837.5" stroke-width="2"/>
<line x1="1306.8" y1="1077.8" x2="1306.8" y2="1837.5" stroke-width="2"/>
<line x1="1479.9" y1="1077.8" x2="1479.9" y2="1837.5" stroke-width="2"/>
<path d="M926.0,1446.0 C927.0,1446.3 929.6,1447.1 932.1,1448.1 C934.6,1449.1 938.0,1449.4 941.2,1452.1 C944.4,1454.8 947.2,1457.5 951.3,1464.3 C955.3,1471.0 960.8,1481.8 965.5,1492.6 C970.2,1503.4 974.6,1516.3 979.7,1529.1 C984.8,1541.9 990.2,1556.4 995.9,1569.6 C1001.6,1582.8 1008.0,1596.9 1014.1,1608.0 C1020.2,1619.1 1026.2,1628.6 1032.3,1636.4 C1038.4,1644.2 1045.9,1650.0 1050.5,1654.6 C1055.1,1659.2 1057.2,1661.0 1060.0,1664.0 C1062.8,1667.0 1064.2,1669.3 1067.3,1672.8 C1070.4,1676.3 1074.5,1680.1 1078.8,1685.0 C1083.1,1689.9 1088.3,1695.8 1093.0,1702.0 C1097.7,1708.2 1102.1,1715.3 1107.2,1722.0 C1112.3,1728.7 1118.0,1736.0 1123.4,1742.0 C1128.8,1748.0 1134.5,1754.0 1139.6,1758.0 C1144.6,1762.0 1149.4,1764.4 1153.7,1766.0 C1158.0,1767.6 1163.5,1767.2 1165.5,1767.5"/>
<path d="M926.0,1447.0 C927.0,1447.3 928.9,1447.2 932.1,1449.1 C935.3,1451.0 941.0,1453.7 945.2,1458.2 C949.4,1462.8 953.0,1468.0 957.4,1476.4 C961.8,1484.8 966.9,1498.0 971.6,1508.8 C976.3,1519.6 980.7,1529.7 985.7,1541.2 C990.8,1552.7 996.2,1566.2 1001.9,1577.7 C1007.6,1589.2 1014.0,1600.6 1020.1,1610.0 C1026.2,1619.4 1032.7,1627.9 1038.4,1634.3 C1044.2,1640.7 1049.8,1644.6 1054.6,1648.5 C1059.4,1652.4 1062.6,1654.2 1067.3,1657.6 C1072.0,1661.0 1077.6,1664.2 1082.9,1668.7 C1088.2,1673.2 1093.7,1679.2 1099.1,1684.9 C1104.5,1690.7 1109.9,1696.8 1115.3,1703.2 C1120.7,1709.6 1126.1,1717.3 1131.5,1723.4 C1136.9,1729.5 1142.0,1736.1 1147.7,1739.6 C1153.4,1743.1 1162.5,1743.7 1165.5,1744.5"/>
<path d="M1067.3,1657.6 C1069.8,1656.0 1077.0,1650.1 1082.0,1648.0 C1087.0,1645.9 1091.8,1645.4 1097.0,1645.0 C1102.2,1644.6 1107.5,1644.7 1113.0,1645.5 C1118.5,1646.3 1124.2,1648.2 1130.0,1650.0 C1135.8,1651.8 1142.1,1654.4 1148.0,1656.0 C1153.9,1657.6 1162.6,1658.9 1165.5,1659.5"/>
<path d="M1067.3,1672.8 C1069.2,1672.3 1075.0,1670.5 1079.0,1670.0 C1083.0,1669.5 1086.3,1668.7 1091.0,1670.0 C1095.7,1671.3 1101.7,1674.3 1107.0,1678.0 C1112.3,1681.7 1117.7,1687.7 1123.0,1692.0 C1128.3,1696.3 1134.0,1700.7 1139.0,1704.0 C1144.0,1707.3 1148.6,1710.3 1153.0,1712.0 C1157.4,1713.7 1163.4,1713.7 1165.5,1714.0"/>
<path d="M926.0,1757.0 C927.0,1756.8 928.2,1758.0 932.1,1755.8 C936.0,1753.6 942.0,1747.3 949.3,1743.6 C956.5,1739.9 967.2,1737.5 975.6,1733.5 C984.0,1729.5 992.1,1724.5 999.9,1719.4 C1007.7,1714.4 1014.8,1708.3 1022.2,1703.2 C1029.6,1698.1 1038.3,1692.7 1044.4,1689.0 C1050.5,1685.3 1054.8,1683.6 1058.6,1680.9 C1062.4,1678.2 1065.8,1674.2 1067.3,1672.8"/>
<path d="M926.0,1762.0 C927.0,1762.3 928.2,1763.1 932.1,1763.9 C936.0,1764.7 943.7,1768.2 949.3,1766.9 C954.9,1765.6 959.4,1761.4 965.5,1755.8 C971.6,1750.2 979.0,1741.3 985.7,1733.5 C992.5,1725.7 999.2,1717.3 1006.0,1709.2 C1012.8,1701.1 1019.5,1692.7 1026.2,1684.9 C1033.0,1677.2 1039.7,1667.2 1046.5,1662.7 C1053.3,1658.2 1063.8,1658.4 1067.3,1657.6"/>
<path d="M926.0,1790.0 C927.0,1789.7 927.2,1791.9 932.1,1788.2 C937.0,1784.5 947.1,1776.0 955.4,1767.9 C963.7,1759.8 973.3,1748.7 981.7,1739.6 C990.1,1730.5 998.6,1721.4 1006.0,1713.3 C1013.4,1705.2 1019.5,1698.1 1026.2,1691.0 C1033.0,1683.9 1039.7,1676.4 1046.5,1670.8 C1053.3,1665.2 1063.8,1659.8 1067.3,1657.6"/>
<path d="M926.0,1794.0 C927.0,1794.4 928.6,1794.9 932.1,1796.3 C935.6,1797.7 941.7,1800.9 947.3,1802.3 C952.9,1803.7 959.8,1805.1 965.5,1804.4 C971.2,1803.7 976.3,1802.3 981.7,1798.3 C987.1,1794.2 992.5,1788.2 997.9,1780.1 C1003.3,1772.0 1008.7,1760.5 1014.1,1749.7 C1019.5,1738.9 1025.2,1724.8 1030.3,1715.3 C1035.3,1705.8 1040.0,1698.7 1044.4,1693.0 C1048.8,1687.3 1052.8,1684.3 1056.6,1680.9 C1060.4,1677.5 1065.5,1674.2 1067.3,1672.8"/>
<path d="M926.0,1821.0 C927.0,1821.3 929.6,1822.0 932.1,1822.6 C934.6,1823.2 938.0,1822.2 941.2,1824.6 C944.4,1827.0 949.3,1834.2 951.3,1836.8 C953.3,1839.4 952.7,1839.5 953.0,1840.0"/>
<path d="M1202.5,1075.0 C1202.6,1076.2 1201.5,1072.0 1203.0,1082.2 C1204.5,1092.5 1208.5,1117.2 1211.2,1136.5 C1213.9,1155.8 1216.7,1177.5 1219.4,1198.0 C1222.1,1218.5 1224.9,1239.0 1227.6,1259.5 C1230.3,1280.0 1233.1,1302.2 1235.8,1321.0 C1238.5,1339.8 1241.8,1359.0 1244.0,1372.2 C1246.2,1385.4 1247.5,1392.0 1249.0,1400.0 C1250.5,1408.0 1252.0,1413.3 1253.0,1420.0 C1254.0,1426.7 1255.0,1433.3 1255.0,1440.0 C1255.0,1446.7 1254.7,1453.2 1253.0,1460.0 C1251.3,1466.8 1248.7,1469.3 1245.0,1480.5 C1241.3,1491.7 1235.6,1510.8 1230.9,1527.0 C1226.2,1543.2 1221.4,1561.8 1216.7,1577.7 C1212.0,1593.6 1206.9,1608.7 1202.5,1622.2 C1198.1,1635.7 1194.1,1648.8 1190.4,1658.6 C1186.7,1668.4 1181.9,1677.2 1180.2,1680.9"/>
<path d="M1206.5,1075.0 C1206.6,1076.2 1205.5,1072.0 1207.0,1082.2 C1208.5,1092.5 1212.5,1117.2 1215.2,1136.5 C1217.9,1155.8 1220.7,1177.5 1223.4,1198.0 C1226.1,1218.5 1228.9,1239.0 1231.6,1259.5 C1234.3,1280.0 1237.1,1302.2 1239.8,1321.0 C1242.5,1339.8 1245.9,1359.4 1248.0,1372.2 C1250.1,1385.0 1251.2,1390.4 1252.5,1398.0 C1253.8,1405.6 1255.1,1412.7 1256.0,1418.0 C1256.9,1423.3 1258.5,1425.3 1258.0,1430.0 C1257.5,1434.7 1255.8,1440.0 1253.0,1446.0 C1250.2,1452.0 1245.4,1455.5 1241.0,1466.3 C1236.6,1477.1 1231.9,1494.4 1226.8,1510.9 C1221.7,1527.4 1215.7,1548.6 1210.6,1565.5 C1205.5,1582.4 1201.1,1597.2 1196.4,1612.1 C1191.7,1626.9 1186.3,1644.1 1182.3,1654.6 C1178.2,1665.0 1173.8,1671.4 1172.1,1674.8"/>
<path d="M1420.0,1075.0 C1419.9,1076.2 1420.6,1072.0 1419.3,1082.2 C1418.0,1092.5 1414.7,1117.2 1412.1,1136.5 C1409.5,1155.8 1406.6,1177.5 1403.9,1198.0 C1401.2,1218.5 1398.8,1239.0 1395.7,1259.5 C1392.6,1280.0 1388.9,1302.2 1385.5,1321.0 C1382.1,1339.8 1378.3,1357.9 1375.2,1372.2 C1372.1,1386.5 1369.0,1398.5 1367.0,1407.0 C1365.0,1415.5 1364.1,1417.2 1362.9,1423.4 C1361.7,1429.6 1359.9,1438.5 1359.8,1443.9 C1359.7,1449.3 1360.6,1448.5 1362.4,1456.0 C1364.2,1463.5 1367.1,1477.1 1370.5,1488.6 C1373.9,1500.1 1378.7,1512.8 1382.7,1525.0 C1386.8,1537.2 1390.8,1550.7 1394.8,1561.5 C1398.8,1572.3 1403.0,1583.1 1407.0,1589.8 C1411.0,1596.5 1414.4,1597.9 1419.1,1601.9 C1423.8,1605.9 1429.0,1609.0 1435.0,1614.0 C1441.0,1619.0 1449.2,1626.3 1455.0,1632.0 C1460.8,1637.7 1465.9,1643.6 1470.0,1648.0 C1474.1,1652.4 1478.2,1656.8 1479.8,1658.6"/>
<path d="M1422.5,1075.0 C1422.4,1076.2 1423.1,1072.0 1421.8,1082.2 C1420.5,1092.5 1417.2,1117.2 1414.6,1136.5 C1412.0,1155.8 1409.1,1177.5 1406.4,1198.0 C1403.7,1218.5 1401.3,1239.0 1398.2,1259.5 C1395.1,1280.0 1391.4,1302.2 1388.0,1321.0 C1384.6,1339.8 1380.8,1357.9 1377.7,1372.2 C1374.6,1386.5 1371.5,1398.2 1369.5,1407.0 C1367.5,1415.8 1366.6,1418.5 1365.4,1425.0 C1364.2,1431.5 1361.2,1437.5 1362.4,1446.1 C1363.6,1454.7 1368.5,1464.6 1372.6,1476.4 C1376.6,1488.2 1382.3,1504.1 1386.7,1516.9 C1391.1,1529.7 1395.2,1542.6 1398.9,1553.4 C1402.6,1564.2 1406.0,1574.3 1409.0,1581.7 C1412.0,1589.1 1414.1,1593.9 1417.1,1597.9 C1420.1,1602.0 1422.8,1602.0 1427.2,1606.0 C1431.6,1610.0 1437.3,1615.5 1443.4,1622.2 C1449.5,1629.0 1457.5,1640.4 1463.6,1646.5 C1469.7,1652.6 1477.1,1656.6 1479.8,1658.6"/>
<path d="M1286.0,1075.0 C1286.3,1076.2 1285.9,1078.5 1288.1,1082.2 C1290.3,1086.0 1296.2,1094.4 1299.4,1097.5 C1302.6,1100.6 1304.5,1100.6 1307.2,1100.6 C1309.9,1100.6 1312.2,1100.6 1315.8,1097.5 C1319.4,1094.4 1326.6,1086.0 1329.1,1082.2 C1331.6,1078.5 1330.7,1076.2 1331.0,1075.0"/>
<path d="M1250.2,1450.1 C1251.2,1447.7 1253.6,1441.5 1256.3,1435.7 C1259.0,1429.9 1262.8,1422.0 1266.6,1415.2 C1270.4,1408.4 1274.5,1400.9 1278.9,1394.7 C1283.3,1388.5 1288.5,1381.9 1293.2,1378.3 C1297.9,1374.7 1302.4,1373.2 1307.2,1373.2 C1312.0,1373.2 1317.4,1374.7 1321.9,1378.3 C1326.4,1381.9 1330.1,1388.5 1334.2,1394.7 C1338.3,1400.9 1342.7,1408.4 1346.5,1415.2 C1350.3,1422.0 1354.1,1429.9 1356.8,1435.7 C1359.5,1441.5 1361.9,1447.7 1362.9,1450.1"/>
<path d="M1253.0,1451.3 C1254.0,1448.9 1256.3,1442.7 1259.0,1437.0 C1261.7,1431.2 1265.5,1423.4 1269.2,1416.6 C1272.9,1409.9 1277.0,1402.4 1281.3,1396.5 C1285.6,1390.5 1290.7,1384.1 1295.0,1380.7 C1299.3,1377.3 1303.0,1376.2 1307.2,1376.2 C1311.4,1376.2 1315.9,1377.3 1320.0,1380.6 C1324.1,1384.0 1327.7,1390.4 1331.7,1396.4 C1335.7,1402.4 1340.1,1409.9 1343.9,1416.6 C1347.6,1423.4 1351.4,1431.2 1354.1,1437.0 C1356.8,1442.7 1359.1,1448.9 1360.1,1451.3"/>
<path d="M1249.1,1446.1 C1250.1,1448.4 1253.1,1455.2 1255.1,1460.2 C1257.1,1465.2 1258.2,1472.0 1261.2,1476.4 C1264.2,1480.8 1268.7,1483.9 1273.4,1486.6 C1278.1,1489.3 1283.9,1491.4 1289.6,1492.6 C1295.3,1493.8 1301.3,1493.8 1307.4,1493.6 C1313.5,1493.4 1320.2,1493.1 1326.0,1491.6 C1331.8,1490.1 1337.5,1488.0 1342.2,1484.5 C1346.9,1481.0 1351.3,1475.1 1354.3,1470.4 C1357.3,1465.7 1359.1,1460.2 1360.4,1456.2 C1361.8,1452.2 1362.1,1447.8 1362.4,1446.1"/>
<path d="M1253.1,1460.2 C1254.1,1463.6 1256.8,1475.4 1259.2,1480.5 C1261.6,1485.6 1262.9,1487.9 1267.3,1490.6 C1271.7,1493.3 1278.8,1496.0 1285.5,1496.7 C1292.2,1497.4 1300.3,1494.7 1307.4,1494.7 C1314.5,1494.7 1322.9,1496.0 1328.0,1496.7 C1333.1,1497.4 1334.7,1500.4 1338.1,1498.7 C1341.5,1497.0 1345.2,1491.7 1348.3,1486.6 C1351.3,1481.5 1354.1,1472.0 1356.4,1468.3 C1358.8,1464.6 1361.4,1465.0 1362.4,1464.3"/>
<path d="M1165.5,1744.9 C1167.7,1744.6 1174.5,1744.3 1178.8,1743.3 C1183.1,1742.2 1187.2,1740.7 1191.4,1738.6 C1195.6,1736.5 1199.7,1734.7 1203.9,1730.8 C1208.1,1726.9 1212.8,1720.6 1216.5,1715.1 C1220.2,1709.6 1222.8,1704.6 1225.9,1697.8 C1229.0,1691.0 1232.2,1682.4 1235.3,1674.3 C1238.4,1666.2 1241.6,1657.6 1244.7,1649.2 C1247.8,1640.8 1251.0,1631.9 1254.1,1624.1 C1257.2,1616.3 1260.4,1609.5 1263.5,1602.2 C1266.6,1594.9 1269.8,1587.0 1272.9,1580.2 C1276.1,1573.4 1279.0,1566.4 1282.4,1561.4 C1285.8,1556.4 1289.2,1553.1 1293.3,1550.4 C1297.4,1547.7 1305.0,1545.9 1307.3,1545.0"/>
<path d="M1165.5,1759.0 C1168.5,1758.0 1178.7,1755.3 1183.5,1752.7 C1188.3,1750.1 1190.6,1747.5 1194.5,1743.3 C1198.4,1739.1 1202.9,1733.9 1207.1,1727.6 C1211.3,1721.3 1215.9,1712.8 1219.6,1705.7 C1223.2,1698.7 1225.9,1692.9 1229.0,1685.3 C1232.1,1677.7 1235.3,1668.3 1238.4,1660.2 C1241.5,1652.1 1244.7,1644.6 1247.8,1636.7 C1250.9,1628.8 1254.1,1620.4 1257.3,1613.1 C1260.5,1605.8 1263.6,1599.2 1266.7,1592.7 C1269.8,1586.2 1273.0,1579.4 1276.1,1573.9 C1279.2,1568.4 1281.8,1564.2 1285.5,1559.8 C1289.2,1555.4 1294.4,1549.8 1298.0,1547.3 C1301.6,1544.8 1305.8,1545.4 1307.3,1545.0"/>
<path d="M1307.3,1545.0 C1310.0,1546.2 1318.2,1549.0 1323.5,1552.0 C1328.8,1555.0 1334.0,1559.0 1339.2,1562.9 C1344.4,1566.8 1349.7,1571.3 1354.9,1575.5 C1360.1,1579.7 1365.4,1583.8 1370.6,1588.0 C1375.8,1592.2 1381.1,1596.4 1386.3,1600.6 C1391.5,1604.8 1396.8,1608.6 1402.0,1613.1 C1407.2,1617.5 1412.5,1623.1 1417.7,1627.3 C1422.9,1631.5 1428.2,1634.9 1433.4,1638.3 C1438.6,1641.7 1443.8,1645.1 1449.0,1647.7 C1454.2,1650.3 1459.5,1651.8 1464.7,1653.9 C1469.9,1656.0 1477.8,1659.2 1480.4,1660.2"/>
<path d="M1306.5,1546.8 C1309.2,1548.0 1317.3,1550.8 1322.5,1553.7 C1327.8,1556.7 1332.8,1560.6 1338.0,1564.5 C1343.2,1568.4 1348.4,1572.9 1353.7,1577.1 C1358.9,1581.2 1364.1,1585.4 1369.4,1589.6 C1374.6,1593.7 1379.8,1598.0 1385.1,1602.2 C1390.3,1606.3 1395.5,1610.2 1400.7,1614.6 C1405.9,1619.1 1411.2,1624.6 1416.4,1628.9 C1421.7,1633.1 1427.0,1636.5 1432.3,1640.0 C1437.6,1643.4 1442.8,1646.9 1448.1,1649.5 C1453.4,1652.1 1458.7,1653.7 1464.0,1655.8 C1469.2,1657.9 1477.0,1661.0 1479.7,1662.1"/>
<path d="M1307.3,1545.0 C1308.7,1545.9 1312.5,1546.4 1315.7,1550.4 C1318.9,1554.4 1323.3,1562.7 1326.7,1569.2 C1330.1,1575.7 1333.2,1583.3 1336.1,1589.6 C1339.0,1595.9 1342.1,1604.3 1343.9,1606.9 C1345.7,1609.5 1345.3,1606.9 1347.1,1605.3 C1348.9,1603.7 1351.8,1600.4 1354.9,1597.5 C1358.0,1594.6 1362.0,1590.0 1365.9,1588.0 C1369.8,1586.0 1373.7,1585.4 1378.4,1585.7 C1383.1,1586.0 1388.9,1587.9 1394.1,1589.6 C1399.3,1591.3 1404.6,1593.6 1409.8,1595.9 C1415.0,1598.2 1420.3,1600.6 1425.5,1603.7 C1430.7,1606.8 1436.0,1610.2 1441.2,1614.7 C1446.4,1619.2 1451.7,1624.7 1456.9,1630.4 C1462.1,1636.2 1468.7,1644.2 1472.6,1649.2 C1476.5,1654.2 1479.1,1658.4 1480.4,1660.2"/>
<path d="M1307.3,1545.0 C1309.5,1546.2 1316.4,1547.7 1320.4,1552.0 C1324.4,1556.3 1328.0,1564.3 1331.4,1570.8 C1334.8,1577.3 1338.2,1585.7 1340.8,1591.2 C1343.4,1596.7 1345.5,1599.2 1347.1,1603.7 C1348.7,1608.2 1349.2,1612.9 1350.2,1617.9 C1351.2,1622.9 1352.3,1630.2 1353.3,1633.5 C1354.3,1636.8 1355.0,1635.6 1356.0,1638.0 C1357.0,1640.4 1357.9,1642.2 1359.6,1647.7 C1361.2,1653.2 1363.8,1663.4 1365.9,1671.2 C1368.0,1679.0 1370.1,1687.4 1372.2,1694.7 C1374.3,1702.0 1376.1,1708.3 1378.4,1715.1 C1380.8,1721.9 1383.7,1729.5 1386.3,1735.5 C1388.9,1741.5 1391.5,1747.0 1394.1,1751.2 C1396.7,1755.4 1399.4,1758.5 1402.0,1760.6 C1404.6,1762.7 1406.9,1763.5 1409.8,1763.8 C1412.7,1764.1 1416.1,1764.0 1419.2,1762.2 C1422.3,1760.4 1424.9,1757.5 1428.6,1752.8 C1432.3,1748.1 1437.0,1740.8 1441.2,1734.0 C1445.4,1727.2 1449.5,1719.3 1453.7,1712.0 C1457.9,1704.7 1461.8,1696.8 1466.3,1690.0 C1470.8,1683.2 1478.1,1674.3 1480.4,1671.2"/>
<path d="M1165.5,1660.2 C1168.5,1654.2 1176.6,1635.9 1183.5,1624.1 C1190.4,1612.3 1199.2,1599.5 1207.1,1589.6 C1214.9,1579.7 1224.1,1570.5 1230.6,1564.5 C1237.1,1558.5 1241.8,1554.0 1246.3,1553.5 C1250.8,1553.0 1253.9,1556.4 1257.3,1561.4 C1260.7,1566.4 1264.6,1579.4 1266.7,1583.3 C1268.8,1587.2 1268.8,1582.3 1269.8,1584.9 C1270.8,1587.5 1270.8,1591.4 1272.9,1599.0 C1275.0,1606.6 1279.2,1620.5 1282.4,1630.4 C1285.6,1640.3 1288.7,1651.0 1291.8,1658.6 C1294.9,1666.2 1298.6,1672.2 1301.2,1675.9 C1303.8,1679.6 1304.9,1679.3 1307.3,1680.6 C1309.7,1681.9 1313.0,1682.9 1315.7,1683.7 C1318.4,1684.5 1320.9,1686.3 1323.5,1685.3 C1326.1,1684.3 1328.5,1680.9 1331.4,1677.5 C1334.3,1674.1 1337.7,1669.6 1340.8,1664.9 C1343.9,1660.2 1348.0,1652.1 1350.2,1649.2 C1352.4,1646.3 1352.8,1646.7 1354.1,1647.7 C1355.4,1648.8 1357.3,1654.2 1358.0,1655.5"/>
<path d="M1165.5,1713.5 C1168.5,1709.1 1176.6,1697.1 1183.5,1686.9 C1190.4,1676.7 1199.2,1662.3 1207.1,1652.4 C1214.9,1642.5 1224.3,1632.8 1230.6,1627.3 C1236.9,1621.8 1240.8,1620.2 1244.7,1619.4 C1248.6,1618.6 1251.2,1620.2 1254.1,1622.5 C1257.0,1624.8 1258.9,1628.0 1262.0,1633.5 C1265.1,1639.0 1269.0,1649.2 1272.9,1655.5 C1276.8,1661.8 1281.6,1667.0 1285.5,1671.2 C1289.4,1675.4 1292.9,1678.9 1296.5,1680.6 C1300.1,1682.3 1304.1,1683.0 1307.3,1681.4 C1310.5,1679.8 1312.7,1675.0 1315.7,1671.2 C1318.7,1667.4 1322.0,1663.8 1325.1,1658.6 C1328.2,1653.4 1331.6,1646.1 1334.5,1639.8 C1337.4,1633.5 1340.3,1624.1 1342.4,1621.0 C1344.5,1617.9 1345.3,1618.4 1347.1,1621.0 C1348.9,1623.6 1352.3,1634.1 1353.3,1636.7"/>
<path d="M1165.5,1660.2 C1167.2,1662.5 1172.7,1670.9 1175.7,1674.3 C1178.7,1677.7 1179.6,1678.2 1183.5,1680.6 C1187.4,1682.9 1192.7,1686.3 1199.2,1688.4 C1205.7,1690.5 1216.2,1691.3 1222.7,1693.1 C1229.2,1694.9 1233.2,1695.7 1238.4,1699.4 C1243.6,1703.1 1248.9,1708.6 1254.1,1715.1 C1259.3,1721.6 1264.6,1730.2 1269.8,1738.6 C1275.0,1747.0 1280.8,1756.1 1285.5,1765.3 C1290.2,1774.5 1294.4,1784.5 1298.0,1793.5 C1301.6,1802.5 1305.8,1814.8 1307.3,1819.0"/>
<path d="M1307.3,1819.0 C1310.0,1811.6 1318.2,1788.4 1323.5,1774.7 C1328.8,1761.0 1334.0,1748.3 1339.2,1737.1 C1344.4,1725.9 1349.7,1715.7 1354.9,1707.3 C1360.1,1698.9 1365.4,1693.5 1370.6,1686.9 C1375.8,1680.4 1381.1,1673.8 1386.3,1668.0 C1391.5,1662.2 1396.8,1656.8 1402.0,1652.4 C1407.2,1648.0 1413.3,1643.8 1417.7,1641.4 C1422.1,1639.1 1424.7,1637.0 1428.6,1638.3 C1432.5,1639.6 1437.5,1645.0 1441.2,1649.2 C1444.9,1653.4 1448.0,1660.0 1450.6,1663.4 C1453.2,1666.8 1453.7,1668.5 1456.9,1669.6 C1460.1,1670.7 1466.1,1669.8 1470.0,1670.0 C1473.9,1670.2 1478.7,1670.8 1480.4,1671.0"/>
<path d="M1329.0,1840.0 C1329.4,1839.1 1327.1,1840.6 1331.4,1834.4 C1335.7,1828.2 1347.1,1813.2 1354.9,1803.0 C1362.7,1792.8 1371.3,1781.6 1378.4,1773.2 C1385.5,1764.8 1391.5,1759.9 1397.3,1752.8 C1403.1,1745.7 1407.8,1738.4 1413.0,1730.8 C1418.2,1723.2 1423.4,1714.9 1428.6,1707.3 C1433.8,1699.7 1439.6,1691.3 1444.3,1685.3 C1449.0,1679.3 1452.7,1674.3 1456.9,1671.2 C1461.1,1668.1 1465.5,1667.8 1469.4,1666.5 C1473.3,1665.2 1478.6,1663.9 1480.4,1663.4"/>
<path d="M1340.0,1840.0 C1340.4,1839.1 1338.1,1840.1 1342.4,1834.4 C1346.7,1828.8 1358.3,1815.5 1365.9,1806.1 C1373.5,1796.7 1380.6,1786.5 1387.9,1777.9 C1395.2,1769.3 1403.5,1762.2 1409.8,1754.3 C1416.1,1746.4 1420.3,1738.6 1425.5,1730.8 C1430.7,1723.0 1436.0,1714.9 1441.2,1707.3 C1446.4,1699.7 1451.7,1691.3 1456.9,1685.3 C1462.1,1679.3 1468.7,1674.1 1472.6,1671.2 C1476.5,1668.3 1479.1,1668.5 1480.4,1668.0"/>
<path d="M1380.0,1840.0 C1380.3,1839.1 1378.7,1839.5 1381.6,1834.4 C1384.5,1829.3 1392.1,1818.2 1397.3,1809.3 C1402.5,1800.4 1407.8,1790.4 1413.0,1781.0 C1418.2,1771.6 1423.4,1761.7 1428.6,1752.8 C1433.8,1743.9 1439.1,1736.1 1444.3,1727.7 C1449.5,1719.3 1455.3,1709.9 1460.0,1702.6 C1464.7,1695.3 1469.2,1688.9 1472.6,1683.7 C1476.0,1678.5 1479.1,1673.3 1480.4,1671.2"/>
<path d="M1402.0,1760.6 C1403.3,1761.1 1405.9,1765.1 1409.8,1763.8 C1413.7,1762.5 1420.3,1758.8 1425.5,1752.8 C1430.7,1746.8 1436.0,1736.1 1441.2,1727.7 C1446.4,1719.3 1451.7,1710.7 1456.9,1702.6 C1462.1,1694.5 1468.7,1684.4 1472.6,1679.0 C1476.5,1673.6 1479.1,1671.5 1480.4,1670.0"/>
<path d="M1370.6,1584.9 C1374.5,1586.7 1386.2,1593.3 1394.1,1595.9 C1401.9,1598.5 1409.8,1597.7 1417.7,1600.6 C1425.6,1603.5 1434.7,1608.6 1441.2,1613.1 C1447.7,1617.5 1451.7,1621.5 1456.9,1627.3 C1462.1,1633.1 1468.7,1642.2 1472.6,1647.7 C1476.5,1653.2 1479.1,1658.0 1480.4,1660.0"/>
<path d="M1419.2,1599.0 C1421.6,1602.2 1428.4,1612.4 1433.4,1617.9 C1438.4,1623.4 1443.8,1627.6 1449.0,1632.0 C1454.2,1636.4 1459.5,1640.3 1464.7,1644.5 C1469.9,1648.7 1477.8,1655.0 1480.4,1657.1"/>
<path d="M1165.5,1713.5 C1167.2,1716.9 1171.4,1727.4 1175.7,1733.9 C1180.0,1740.4 1186.2,1747.5 1191.4,1752.7 C1196.6,1757.9 1201.9,1761.6 1207.1,1765.3 C1212.3,1769.0 1217.5,1771.0 1222.7,1774.7 C1227.9,1778.4 1233.2,1783.6 1238.4,1787.3 C1243.6,1791.0 1248.9,1793.8 1254.1,1796.7 C1259.3,1799.6 1264.6,1801.9 1269.8,1804.5 C1275.0,1807.1 1280.3,1810.3 1285.5,1812.4 C1290.7,1814.5 1297.6,1816.0 1301.2,1817.1 C1304.8,1818.2 1306.3,1818.7 1307.3,1819.0"/>
<path d="M1165.5,1713.5 C1167.7,1719.5 1174.5,1739.4 1178.8,1749.6 C1183.1,1759.8 1187.2,1767.4 1191.4,1774.7 C1195.6,1782.0 1199.7,1788.3 1203.9,1793.5 C1208.1,1798.7 1211.8,1802.9 1216.5,1806.1 C1221.2,1809.2 1227.0,1810.6 1232.2,1812.4 C1237.4,1814.2 1242.8,1815.0 1247.8,1817.1 C1252.8,1819.2 1257.8,1822.3 1262.0,1824.9 C1266.2,1827.5 1269.9,1830.2 1272.9,1832.7 C1275.9,1835.2 1278.8,1838.8 1280.0,1840.0"/>
<path d="M1175.7,1674.3 C1177.0,1676.4 1180.4,1680.9 1183.5,1686.9 C1186.6,1692.9 1190.6,1702.6 1194.5,1710.4 C1198.4,1718.2 1202.9,1726.6 1207.1,1733.9 C1211.3,1741.2 1215.7,1747.5 1219.6,1754.3 C1223.5,1761.1 1226.9,1767.6 1230.6,1774.7 C1234.3,1781.8 1238.2,1789.9 1241.6,1796.7 C1245.0,1803.5 1248.4,1809.5 1251.0,1815.5 C1253.6,1821.5 1255.8,1828.6 1257.3,1832.7 C1258.8,1836.8 1259.5,1838.8 1260.0,1840.0"/>
<path d="M1165.5,1744.9 C1167.9,1745.1 1174.4,1744.8 1180.0,1746.0 C1185.6,1747.2 1193.2,1749.0 1199.0,1752.0 C1204.8,1755.0 1209.5,1759.5 1215.0,1764.0 C1220.5,1768.5 1226.2,1774.0 1232.0,1779.0 C1237.8,1784.0 1244.0,1789.2 1250.0,1794.0 C1256.0,1798.8 1262.2,1803.7 1268.0,1808.0 C1273.8,1812.3 1279.7,1817.0 1285.0,1820.0 C1290.3,1823.0 1296.3,1824.7 1300.0,1826.0 C1303.7,1827.3 1304.0,1828.0 1307.3,1828.0 C1310.6,1828.0 1315.4,1825.7 1320.0,1826.0 C1324.6,1826.3 1330.8,1827.7 1335.0,1830.0 C1339.2,1832.3 1343.3,1838.3 1345.0,1840.0"/>
<path d="M1165.5,1759.0 C1168.8,1761.2 1178.8,1766.8 1185.0,1772.0 C1191.2,1777.2 1197.2,1784.0 1203.0,1790.0 C1208.8,1796.0 1214.5,1802.7 1220.0,1808.0 C1225.5,1813.3 1231.0,1818.0 1236.0,1822.0 C1241.0,1826.0 1245.7,1829.0 1250.0,1832.0 C1254.3,1835.0 1260.0,1838.7 1262.0,1840.0"/>
<path d="M1307.3,1819.0 C1306.1,1820.8 1301.9,1826.5 1300.0,1830.0 C1298.1,1833.5 1296.7,1838.3 1296.0,1840.0"/>
<path d="M1307.3,1819.0 C1308.4,1820.8 1312.2,1826.5 1314.0,1830.0 C1315.8,1833.5 1317.3,1838.3 1318.0,1840.0"/>
<path d="M1285.0,1840.0 C1286.8,1838.7 1292.3,1833.8 1296.0,1832.0 C1299.7,1830.2 1303.6,1829.0 1307.3,1829.0 C1311.0,1829.0 1314.2,1830.2 1318.0,1832.0 C1321.8,1833.8 1328.0,1838.7 1330.0,1840.0"/>
<path d="M1480.2,1658.4 C1483.0,1655.4 1491.2,1647.3 1496.9,1640.6 C1502.7,1633.9 1508.8,1626.5 1514.7,1618.3 C1520.7,1610.1 1526.6,1601.2 1532.6,1591.6 C1538.5,1581.9 1544.8,1571.2 1550.4,1560.4 C1556.0,1549.6 1560.8,1538.1 1566.0,1527.0 C1571.2,1515.9 1576.8,1503.6 1581.6,1493.6 C1586.4,1483.6 1591.3,1473.1 1595.0,1466.8 C1598.7,1460.5 1600.4,1458.5 1603.9,1455.7 C1607.4,1452.9 1613.1,1451.2 1616.1,1450.1 C1619.1,1449.0 1621.0,1449.2 1622.0,1449.0"/>
<path d="M1480.2,1662.0 C1480.8,1662.2 1480.1,1665.0 1483.6,1662.9 C1487.1,1660.8 1495.5,1655.1 1501.4,1649.5 C1507.3,1643.9 1513.3,1636.9 1519.2,1629.5 C1525.1,1622.1 1531.1,1614.2 1537.0,1604.9 C1542.9,1595.6 1549.2,1584.6 1554.8,1573.8 C1560.4,1563.0 1565.2,1552.2 1570.4,1540.3 C1575.6,1528.4 1581.2,1514.0 1586.0,1502.5 C1590.8,1491.0 1595.7,1478.7 1599.4,1471.3 C1603.1,1463.9 1605.5,1460.9 1608.3,1457.9 C1611.1,1454.9 1613.8,1454.5 1616.1,1453.5 C1618.4,1452.5 1621.0,1452.2 1622.0,1452.0"/>
<path d="M1480.2,1660.6 C1483.0,1661.7 1491.2,1663.2 1496.9,1667.3 C1502.7,1671.4 1508.8,1679.1 1514.7,1685.1 C1520.7,1691.0 1526.6,1696.7 1532.6,1703.0 C1538.5,1709.3 1544.5,1717.8 1550.4,1723.0 C1556.3,1728.2 1562.3,1731.1 1568.2,1734.1 C1574.1,1737.1 1580.4,1738.6 1586.0,1740.8 C1591.6,1743.0 1596.6,1744.9 1601.6,1747.5 C1606.6,1750.1 1612.7,1754.7 1616.1,1756.4 C1619.5,1758.2 1621.0,1757.7 1622.0,1758.0"/>
<path d="M1480.2,1674.0 C1483.0,1676.2 1491.2,1682.2 1496.9,1687.4 C1502.7,1692.6 1508.8,1699.3 1514.7,1705.2 C1520.7,1711.1 1526.6,1717.4 1532.6,1723.0 C1538.5,1728.6 1544.5,1733.8 1550.4,1738.6 C1556.3,1743.4 1562.3,1748.3 1568.2,1752.0 C1574.1,1755.7 1580.4,1758.7 1586.0,1760.9 C1591.6,1763.1 1596.6,1766.0 1601.6,1765.3 C1606.6,1764.5 1613.7,1757.9 1616.1,1756.4"/>
<path d="M1480.2,1674.0 C1483.7,1677.3 1495.7,1685.8 1501.4,1694.0 C1507.2,1702.2 1510.2,1713.3 1514.7,1723.0 C1519.2,1732.7 1522.9,1742.7 1528.1,1752.0 C1533.3,1761.3 1540.0,1771.3 1545.9,1778.7 C1551.9,1786.1 1557.8,1792.4 1563.8,1796.5 C1569.8,1800.6 1575.7,1802.5 1581.6,1803.2 C1587.5,1804.0 1593.7,1802.5 1599.4,1801.0 C1605.2,1799.5 1612.3,1795.8 1616.1,1794.3 C1619.9,1792.8 1621.0,1792.4 1622.0,1792.0"/>
<path d="M1480.2,1674.0 C1483.0,1675.5 1491.2,1679.0 1496.9,1683.0 C1502.7,1687.0 1508.8,1692.5 1514.7,1698.0 C1520.7,1703.5 1526.6,1709.7 1532.6,1716.0 C1538.5,1722.3 1544.5,1729.3 1550.4,1736.0 C1556.3,1742.7 1562.3,1749.7 1568.2,1756.0 C1574.1,1762.3 1580.4,1769.5 1586.0,1774.0 C1591.6,1778.5 1596.6,1780.7 1601.6,1783.0 C1606.6,1785.3 1612.7,1786.6 1616.1,1787.6 C1619.5,1788.6 1621.0,1788.8 1622.0,1789.0"/>
<path d="M1590.0,1840.0 C1590.5,1839.4 1590.4,1839.4 1592.7,1836.6 C1595.0,1833.8 1600.0,1826.3 1603.9,1823.3 C1607.8,1820.3 1613.1,1819.7 1616.1,1818.8 C1619.1,1817.9 1621.0,1818.1 1622.0,1818.0"/>
<path d="M1606.0,1840.0 C1606.7,1838.5 1608.3,1833.2 1610.0,1831.0 C1611.7,1828.8 1614.1,1827.8 1616.1,1827.0 C1618.1,1826.2 1621.0,1826.2 1622.0,1826.0"/>
<path d="M1586.7,1480.0 C1588.1,1477.7 1592.3,1470.3 1595.0,1466.0 C1597.7,1461.7 1599.5,1457.4 1603.1,1454.1 C1606.7,1450.8 1613.2,1447.4 1616.4,1445.9 C1619.6,1444.4 1621.1,1445.2 1622.0,1445.0"/>
</g>
<g fill="#000">
<rect x="175.0" y="78.0" width="7.0" height="759.2"/>
<rect x="866.1" y="78.0" width="7.0" height="759.2"/>
<rect x="178.8" y="74.0" width="690.8" height="7.0"/>
<rect x="178.8" y="833.7" width="690.8" height="7.0"/>
<rect x="178.5" y="74.0" width="19.5" height="7.0"/>
<rect x="850.1" y="74.0" width="19.5" height="7.0"/>
<rect x="178.5" y="137.3" width="9.5" height="7.0"/>
<rect x="860.1" y="137.3" width="9.5" height="7.0"/>
<rect x="178.5" y="200.6" width="19.5" height="7.0"/>
<rect x="850.1" y="200.6" width="19.5" height="7.0"/>
<rect x="178.5" y="263.9" width="9.5" height="7.0"/>
<rect x="860.1" y="263.9" width="9.5" height="7.0"/>
<rect x="178.5" y="327.2" width="19.5" height="7.0"/>
<rect x="850.1" y="327.2" width="19.5" height="7.0"/>
<rect x="178.5" y="390.5" width="9.5" height="7.0"/>
<rect x="860.1" y="390.5" width="9.5" height="7.0"/>
<rect x="178.5" y="453.9" width="19.5" height="7.0"/>
<rect x="850.1" y="453.9" width="19.5" height="7.0"/>
<rect x="178.5" y="517.2" width="9.5" height="7.0"/>
<rect x="860.1" y="517.2" width="9.5" height="7.0"/>
<rect x="178.5" y="580.5" width="19.5" height="7.0"/>
<rect x="850.1" y="580.5" width="19.5" height="7.0"/>
<rect x="178.5" y="643.8" width="9.5" height="7.0"/>
<rect x="860.1" y="643.8" width="9.5" height="7.0"/>
<rect x="178.5" y="707.1" width="19.5" height="7.0"/>
<rect x="850.1" y="707.1" width="19.5" height="7.0"/>
<rect x="178.5" y="770.4" width="9.5" height="7.0"/>
<rect x="860.1" y="770.4" width="9.5" height="7.0"/>
<rect x="178.5" y="833.7" width="19.5" height="7.0"/>
<rect x="850.1" y="833.7" width="19.5" height="7.0"/>
</g>
<g fill="#000">
<rect x="924.3" y="78.0" width="7.0" height="759.2"/>
<rect x="1615.6" y="78.0" width="7.0" height="759.2"/>
<rect x="928.1" y="74.0" width="691.0" height="7.0"/>
<rect x="928.1" y="833.7" width="691.0" height="7.0"/>
<rect x="927.8" y="74.0" width="19.5" height="7.0"/>
<rect x="1599.6" y="74.0" width="19.5" height="7.0"/>
<rect x="927.8" y="137.3" width="9.5" height="7.0"/>
<rect x="1609.6" y="137.3" width="9.5" height="7.0"/>
<rect x="927.8" y="200.6" width="19.5" height="7.0"/>
<rect x="1599.6" y="200.6" width="19.5" height="7.0"/>
<rect x="927.8" y="263.9" width="9.5" height="7.0"/>
<rect x="1609.6" y="263.9" width="9.5" height="7.0"/>
<rect x="927.8" y="327.2" width="19.5" height="7.0"/>
<rect x="1599.6" y="327.2" width="19.5" height="7.0"/>
<rect x="927.8" y="390.5" width="9.5" height="7.0"/>
<rect x="1609.6" y="390.5" width="9.5" height="7.0"/>
<rect x="927.8" y="453.9" width="19.5" height="7.0"/>
<rect x="1599.6" y="453.9" width="19.5" height="7.0"/>
<rect x="927.8" y="517.2" width="9.5" height="7.0"/>
<rect x="1609.6" y="517.2" width="9.5" height="7.0"/>
<rect x="927.8" y="580.5" width="19.5" height="7.0"/>
<rect x="1599.6" y="580.5" width="19.5" height="7.0"/>
<rect x="927.8" y="643.8" width="9.5" height="7.0"/>
<rect x="1609.6" y="643.8" width="9.5" height="7.0"/>
<rect x="927.8" y="707.1" width="19.5" height="7.0"/>
<rect x="1599.6" y="707.1" width="19.5" height="7.0"/>
<rect x="927.8" y="770.4" width="9.5" height="7.0"/>
<rect x="1609.6" y="770.4" width="9.5" height="7.0"/>
<rect x="927.8" y="833.7" width="19.5" height="7.0"/>
<rect x="1599.6" y="833.7" width="19.5" height="7.0"/>
</g>
<g fill="#000">
<rect x="175.0" y="1078.3" width="7.0" height="759.2"/>
<rect x="866.1" y="1078.3" width="7.0" height="759.2"/>
<rect x="178.8" y="1074.3" width="690.8" height="7.0"/>
<rect x="178.8" y="1834.0" width="690.8" height="7.0"/>
<rect x="178.5" y="1074.3" width="19.5" height="7.0"/>
<rect x="850.1" y="1074.3" width="19.5" height="7.0"/>
<rect x="178.5" y="1137.6" width="9.5" height="7.0"/>
<rect x="860.1" y="1137.6" width="9.5" height="7.0"/>
<rect x="178.5" y="1200.9" width="19.5" height="7.0"/>
<rect x="850.1" y="1200.9" width="19.5" height="7.0"/>
<rect x="178.5" y="1264.2" width="9.5" height="7.0"/>
<rect x="860.1" y="1264.2" width="9.5" height="7.0"/>
<rect x="178.5" y="1327.5" width="19.5" height="7.0"/>
<rect x="850.1" y="1327.5" width="19.5" height="7.0"/>
<rect x="178.5" y="1390.8" width="9.5" height="7.0"/>
<rect x="860.1" y="1390.8" width="9.5" height="7.0"/>
<rect x="178.5" y="1454.2" width="19.5" height="7.0"/>
<rect x="850.1" y="1454.2" width="19.5" height="7.0"/>
<rect x="178.5" y="1517.5" width="9.5" height="7.0"/>
<rect x="860.1" y="1517.5" width="9.5" height="7.0"/>
<rect x="178.5" y="1580.8" width="19.5" height="7.0"/>
<rect x="850.1" y="1580.8" width="19.5" height="7.0"/>
<rect x="178.5" y="1644.1" width="9.5" height="7.0"/>
<rect x="860.1" y="1644.1" width="9.5" height="7.0"/>
<rect x="178.5" y="1707.4" width="19.5" height="7.0"/>
<rect x="850.1" y="1707.4" width="19.5" height="7.0"/>
<rect x="178.5" y="1770.7" width="9.5" height="7.0"/>
<rect x="860.1" y="1770.7" width="9.5" height="7.0"/>
<rect x="178.5" y="1834.0" width="19.5" height="7.0"/>
<rect x="850.1" y="1834.0" width="19.5" height="7.0"/>
</g>
<g fill="#000">
<rect x="924.3" y="1078.3" width="7.0" height="759.2"/>
<rect x="1615.6" y="1078.3" width="7.0" height="759.2"/>
<rect x="928.1" y="1074.3" width="691.0" height="7.0"/>
<rect x="928.1" y="1834.0" width="691.0" height="7.0"/>
<rect x="927.8" y="1074.3" width="19.5" height="7.0"/>
<rect x="1599.6" y="1074.3" width="19.5" height="7.0"/>
<rect x="927.8" y="1137.6" width="9.5" height="7.0"/>
<rect x="1609.6" y="1137.6" width="9.5" height="7.0"/>
<rect x="927.8" y="1200.9" width="19.5" height="7.0"/>
<rect x="1599.6" y="1200.9" width="19.5" height="7.0"/>
<rect x="927.8" y="1264.2" width="9.5" height="7.0"/>
<rect x="1609.6" y="1264.2" width="9.5" height="7.0"/>
<rect x="927.8" y="1327.5" width="19.5" height="7.0"/>
<rect x="1599.6" y="1327.5" width="19.5" height="7.0"/>
<rect x="927.8" y="1390.8" width="9.5" height="7.0"/>
<rect x="1609.6" y="1390.8" width="9.5" height="7.0"/>
<rect x="927.8" y="1454.2" width="19.5" height="7.0"/>
<rect x="1599.6" y="1454.2" width="19.5" height="7.0"/>
<rect x="927.8" y="1517.5" width="9.5" height="7.0"/>
<rect x="1609.6" y="1517.5" width="9.5" height="7.0"/>
<rect x="927.8" y="1580.8" width="19.5" height="7.0"/>
<rect x="1599.6" y="1580.8" width="19.5" height="7.0"/>
<rect x="927.8" y="1644.1" width="9.5" height="7.0"/>
<rect x="1609.6" y="1644.1" width="9.5" height="7.0"/>
<rect x="927.8" y="1707.4" width="19.5" height="7.0"/>
<rect x="1599.6" y="1707.4" width="19.5" height="7.0"/>
<rect x="927.8" y="1770.7" width="9.5" height="7.0"/>
<rect x="1609.6" y="1770.7" width="9.5" height="7.0"/>
<rect x="927.8" y="1834.0" width="19.5" height="7.0"/>
<rect x="1599.6" y="1834.0" width="19.5" height="7.0"/>
</g>
<text class="t" font-size="42.5" text-anchor="end" transform="translate(157.3,90.7) scale(1,1.035)">0.6</text>
<text class="t" font-size="42.5" text-anchor="end" transform="translate(157.3,217.3) scale(1,1.035)">0.4</text>
<text class="t" font-size="42.5" text-anchor="end" transform="translate(157.3,343.9) scale(1,1.035)">0.2</text>
<text class="t" font-size="42.5" text-anchor="end" transform="translate(157.3,470.6) scale(1,1.035)">0.0</text>
<text class="t" font-size="42.5" text-anchor="end" transform="translate(157.3,597.2) scale(1,1.035)">-0.2</text>
<text class="t" font-size="42.5" text-anchor="end" transform="translate(157.3,723.8) scale(1,1.035)">-0.4</text>
<text class="t" font-size="42.5" text-anchor="end" transform="translate(157.3,850.4) scale(1,1.035)">-0.6</text>
<text class="t" font-weight="bold" font-size="52" text-anchor="middle" transform="translate(42.5,428.0) rotate(-90)">Energy (eV)</text>
<text class="t" font-size="42.5" text-anchor="end" transform="translate(157.3,1091.0) scale(1,1.035)">0.6</text>
<text class="t" font-size="42.5" text-anchor="end" transform="translate(157.3,1217.6) scale(1,1.035)">0.4</text>
<text class="t" font-size="42.5" text-anchor="end" transform="translate(157.3,1344.2) scale(1,1.035)">0.2</text>
<text class="t" font-size="42.5" text-anchor="end" transform="translate(157.3,1470.9) scale(1,1.035)">0.0</text>
<text class="t" font-size="42.5" text-anchor="end" transform="translate(157.3,1597.5) scale(1,1.035)">-0.2</text>
<text class="t" font-size="42.5" text-anchor="end" transform="translate(157.3,1724.1) scale(1,1.035)">-0.4</text>
<text class="t" font-size="42.5" text-anchor="end" transform="translate(157.3,1850.7) scale(1,1.035)">-0.6</text>
<text class="t" font-weight="bold" font-size="52" text-anchor="middle" transform="translate(42.5,1428.3) rotate(-90)">Energy (eV)</text>
<text class="t" x="187.6" y="885.2" font-size="53.5" text-anchor="middle">X</text>
<text class="t" x="331.0" y="885.2" font-size="53.5" text-anchor="middle">R</text>
<text class="t" x="423.7" y="885.2" font-size="53.5" text-anchor="middle">M</text>
<text class="t" x="567.4" y="885.2" font-size="53.5" text-anchor="middle">G</text>
<text class="t" x="738.3" y="885.2" font-size="53.5" text-anchor="middle">R</text>
<text class="t" x="879.0" y="885.2" font-size="53.5" text-anchor="middle">X</text>
<text class="t" x="936.0" y="885.2" font-size="53.5" text-anchor="middle">X</text>
<text class="t" x="1080.9" y="885.2" font-size="53.5" text-anchor="middle">R</text>
<text class="t" x="1178.0" y="885.2" font-size="53.5" text-anchor="middle">M</text>
<text class="t" x="1317.8" y="885.2" font-size="53.5" text-anchor="middle">G</text>
<text class="t" x="1492.0" y="885.2" font-size="53.5" text-anchor="middle">R</text>
<text class="t" x="1629.0" y="885.2" font-size="53.5" text-anchor="middle">X</text>
<text class="t" x="189.0" y="1885.5" font-size="53.5" text-anchor="middle">X</text>
<text class="t" x="331.2" y="1885.5" font-size="53.5" text-anchor="middle">R</text>
<text class="t" x="428.3" y="1885.5" font-size="53.5" text-anchor="middle">M</text>
<text class="t" x="569.7" y="1885.5" font-size="53.5" text-anchor="middle">G</text>
<text class="t" x="742.8" y="1885.5" font-size="53.5" text-anchor="middle">R</text>
<text class="t" x="879.8" y="1885.5" font-size="53.5" text-anchor="middle">X</text>
<text class="t" x="936.0" y="1885.5" font-size="53.5" text-anchor="middle">X</text>
<text class="t" x="1080.9" y="1885.5" font-size="53.5" text-anchor="middle">R</text>
<text class="t" x="1178.0" y="1885.5" font-size="53.5" text-anchor="middle">M</text>
<text class="t" x="1317.8" y="1885.5" font-size="53.5" text-anchor="middle">G</text>
<text class="t" x="1492.0" y="1885.5" font-size="53.5" text-anchor="middle">R</text>
<text class="t" x="1629.0" y="1885.5" font-size="53.5" text-anchor="middle">X</text>
<text class="t" font-size="52" text-anchor="middle" transform="translate(910.6,40.6) scale(1,1.05)">6.25%</text>
<text class="t" font-size="52" text-anchor="middle" transform="translate(907.2,1040.6) scale(1,1.03)">25%</text>
<text class="t" x="909.7" y="957" font-size="51.5" text-anchor="middle">(a)</text>
<text class="t" x="902.9" y="1959.4" font-size="51.5" text-anchor="middle">(b)</text>
<line x1="419.4" y1="441.3" x2="665.5" y2="441.3" stroke="#fa0000" stroke-width="3.6" stroke-dasharray="17,17"/>
<line x1="419.4" y1="466.8" x2="669.0" y2="466.8" stroke="#fa0000" stroke-width="3.6" stroke-dasharray="17,17"/>
<line x1="461.0" y1="400.6" x2="461.0" y2="418.6" stroke="#fa0000" stroke-width="2.2"/><polygon points="454.5,416.6 467.5,416.6 461.0,440.6" fill="#fa0000"/>
<line x1="461.0" y1="520.0" x2="461.0" y2="490.0" stroke="#fa0000" stroke-width="2.2"/><polygon points="454.5,492.0 467.5,492.0 461.0,468.0" fill="#fa0000"/>
<text x="488.3" y="531.5" font-family="Liberation Sans,Arial,sans-serif" font-weight="bold" font-size="47" fill="#fa0000">E<tspan dy="14" font-size="52">g</tspan><tspan dy="-14">=40.9meV</tspan></text>
<line x1="1016.5" y1="438.5" x2="1270.0" y2="438.5" stroke="#fa0000" stroke-width="3.6" stroke-dasharray="17,17"/>
<line x1="1016.5" y1="469.6" x2="1263.4" y2="469.6" stroke="#fa0000" stroke-width="3.6" stroke-dasharray="17,17"/>
<line x1="1113.3" y1="394.0" x2="1113.3" y2="412.7" stroke="#fa0000" stroke-width="2.2"/><polygon points="1106.8,410.7 1119.8,410.7 1113.3,434.7" fill="#fa0000"/>
<line x1="1113.3" y1="513.6" x2="1113.3" y2="494.9" stroke="#fa0000" stroke-width="2.2"/><polygon points="1106.8,496.9 1119.8,496.9 1113.3,472.9" fill="#fa0000"/>
<text x="1127.7" y="528.1" font-family="Liberation Sans,Arial,sans-serif" font-weight="bold" font-size="47" fill="#fa0000">E<tspan dy="14" font-size="52">g</tspan><tspan dy="-14">=56.0meV</tspan></text>
<line x1="630.3" y1="1396.5" x2="858.0" y2="1396.5" stroke="#fa0000" stroke-width="3.6" stroke-dasharray="17,17"/>
<line x1="635.3" y1="1531.0" x2="858.0" y2="1531.0" stroke="#fa0000" stroke-width="3.6" stroke-dasharray="17,17"/>
<line x1="781.9" y1="1470.0" x2="781.9" y2="1418.5" stroke="#fa0000" stroke-width="2.2"/><polygon points="775.4,1420.5 788.4,1420.5 781.9,1396.5" fill="#fa0000"/>
<line x1="781.9" y1="1460.0" x2="781.9" y2="1509.0" stroke="#fa0000" stroke-width="2.2"/><polygon points="775.4,1507.0 788.4,1507.0 781.9,1531.0" fill="#fa0000"/>
<text x="492.8" y="1487.2" font-family="Liberation Sans,Arial,sans-serif" font-weight="bold" font-size="47" fill="#fa0000">E<tspan dy="14" font-size="52">g</tspan><tspan dy="-14">=0.218eV</tspan></text>
</svg></body></html>
